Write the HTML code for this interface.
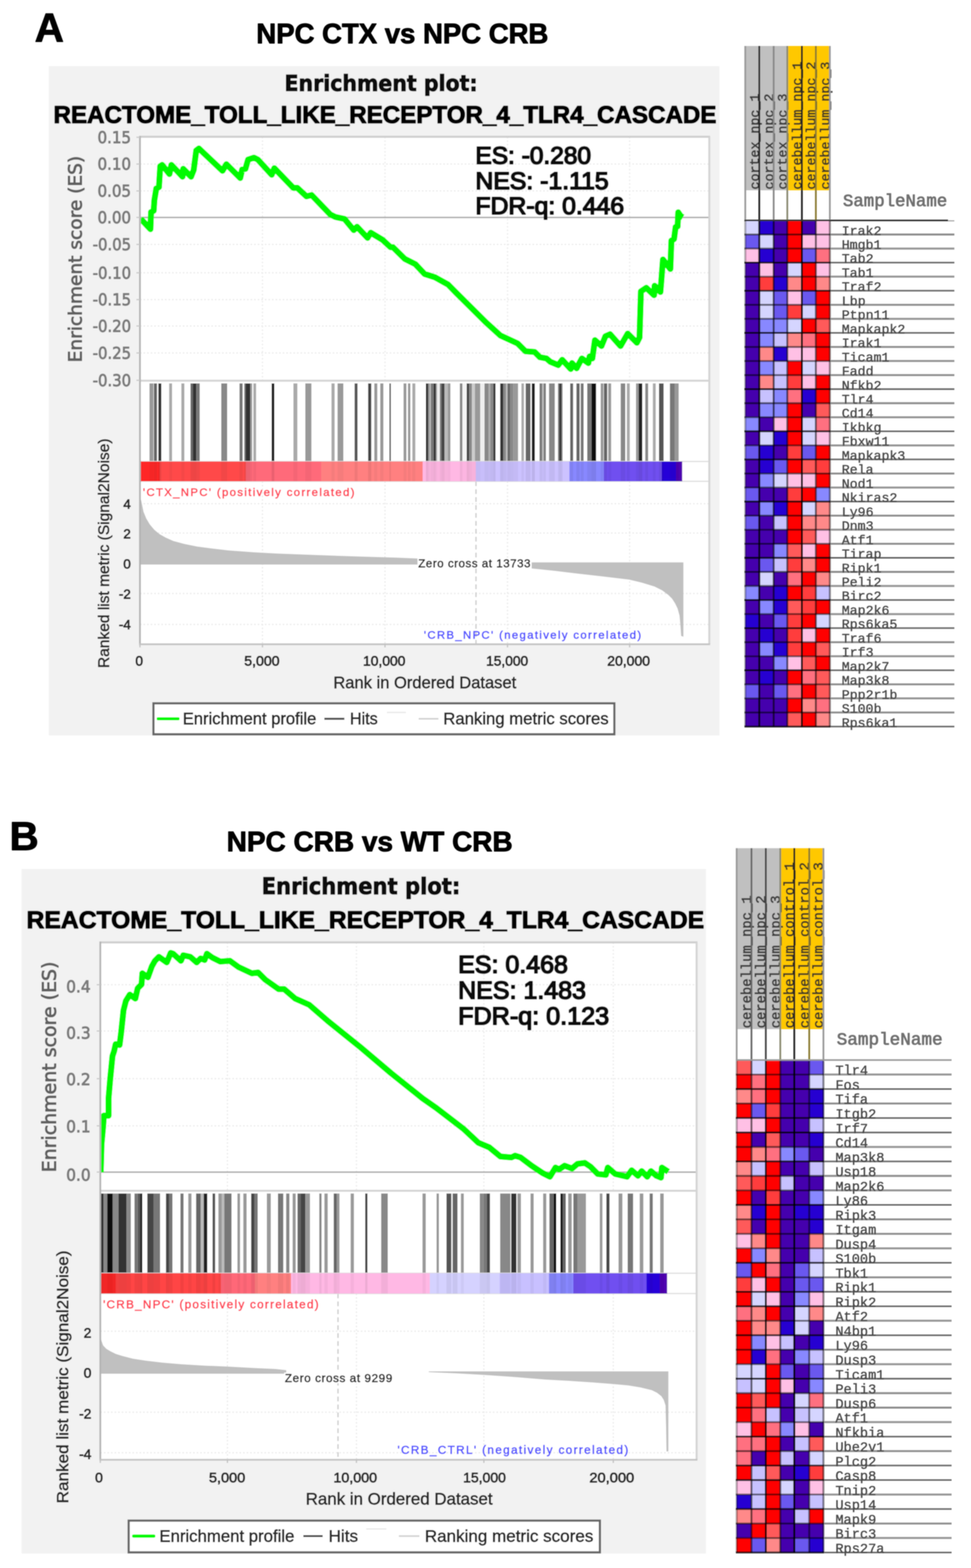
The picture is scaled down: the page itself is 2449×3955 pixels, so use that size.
<!DOCTYPE html>
<html lang="en"><head><meta charset="utf-8"><title>GSEA enrichment plots</title>
<style>html,body{margin:0;padding:0;background:#fff}body{width:2449px;height:3955px;overflow:hidden}svg{display:block}</style>
</head><body>
<svg width="2449" height="3955" viewBox="0 0 2449 3955">
<defs><filter id="bl" x="0" y="0" width="2449" height="3955" filterUnits="userSpaceOnUse"><feGaussianBlur stdDeviation="1.2"/></filter></defs>
<rect x="0" y="0" width="2449" height="3955" fill="#fff"/>
<g filter="url(#bl)">
<g id="panelA">
<rect x="123" y="167" width="1691.5" height="1688" fill="#f2f2f2"/>
<text x="87.5" y="105" font-family="'Liberation Sans',Arial,Helvetica,sans-serif" font-size="102" fill="#000" font-weight="bold" stroke="#000" stroke-width="2.0" stroke-linejoin="round">A</text>
<text x="646.6" y="108.5" font-family="'Liberation Sans',Arial,Helvetica,sans-serif" font-size="70" fill="#000" font-weight="bold" textLength="736.4" lengthAdjust="spacingAndGlyphs" stroke="#000" stroke-width="2.0" stroke-linejoin="round">NPC CTX vs NPC CRB</text>
<text x="717.5" y="228.6" font-family="'DejaVu Sans',Verdana,sans-serif" font-size="55.5" fill="#0a0a0a" font-weight="bold" textLength="487.3" lengthAdjust="spacingAndGlyphs" stroke="#0a0a0a" stroke-width="2.4" stroke-linejoin="round">Enrichment plot:</text>
<text x="135" y="309.5" font-family="'Liberation Sans',Arial,Helvetica,sans-serif" font-size="60.5" fill="#000" font-weight="bold" textLength="1672" lengthAdjust="spacingAndGlyphs" stroke="#000" stroke-width="3.0" stroke-linejoin="round">REACTOME_TOLL_LIKE_RECEPTOR_4_TLR4_CASCADE</text>
<rect x="353" y="345" width="1436" height="1280" fill="#fff"/>
<line x1="353" y1="413.8" x2="1789" y2="413.8" stroke="#eaeaea" stroke-width="3" stroke-dasharray="4 5"/>
<line x1="353" y1="481.6" x2="1789" y2="481.6" stroke="#eaeaea" stroke-width="3" stroke-dasharray="4 5"/>
<line x1="353" y1="616.5" x2="1789" y2="616.5" stroke="#eaeaea" stroke-width="3" stroke-dasharray="4 5"/>
<line x1="353" y1="688.1" x2="1789" y2="688.1" stroke="#eaeaea" stroke-width="3" stroke-dasharray="4 5"/>
<line x1="353" y1="755.7" x2="1789" y2="755.7" stroke="#eaeaea" stroke-width="3" stroke-dasharray="4 5"/>
<line x1="353" y1="822.2" x2="1789" y2="822.2" stroke="#eaeaea" stroke-width="3" stroke-dasharray="4 5"/>
<line x1="353" y1="890.3" x2="1789" y2="890.3" stroke="#eaeaea" stroke-width="3" stroke-dasharray="4 5"/>
<line x1="353" y1="1270.5" x2="1789" y2="1270.5" stroke="#eaeaea" stroke-width="3" stroke-dasharray="4 5"/>
<line x1="353" y1="1344.5" x2="1789" y2="1344.5" stroke="#eaeaea" stroke-width="3" stroke-dasharray="4 5"/>
<line x1="353" y1="1497" x2="1789" y2="1497" stroke="#eaeaea" stroke-width="3" stroke-dasharray="4 5"/>
<line x1="353" y1="1575" x2="1789" y2="1575" stroke="#eaeaea" stroke-width="3" stroke-dasharray="4 5"/>
<line x1="662" y1="345" x2="662" y2="960.3" stroke="#ebebeb" stroke-width="3" stroke-dasharray="4 5"/>
<line x1="662" y1="1214" x2="662" y2="1625" stroke="#eaeaea" stroke-width="3" stroke-dasharray="4 5"/>
<line x1="971" y1="345" x2="971" y2="960.3" stroke="#ebebeb" stroke-width="3" stroke-dasharray="4 5"/>
<line x1="971" y1="1214" x2="971" y2="1625" stroke="#eaeaea" stroke-width="3" stroke-dasharray="4 5"/>
<line x1="1280" y1="345" x2="1280" y2="960.3" stroke="#ebebeb" stroke-width="3" stroke-dasharray="4 5"/>
<line x1="1280" y1="1214" x2="1280" y2="1625" stroke="#eaeaea" stroke-width="3" stroke-dasharray="4 5"/>
<line x1="1588" y1="345" x2="1588" y2="960.3" stroke="#ebebeb" stroke-width="3" stroke-dasharray="4 5"/>
<line x1="1588" y1="1214" x2="1588" y2="1625" stroke="#eaeaea" stroke-width="3" stroke-dasharray="4 5"/>
<line x1="1200.5" y1="1214" x2="1200.5" y2="1625" stroke="#cfcfcf" stroke-width="3.5" stroke-dasharray="12 8"/>
<polygon points="353,1424 353,1255 356,1262 362,1291 369,1308 378,1323 389,1336 401.6,1346.7 418,1356 437,1364.5 465,1372 497,1378.4 535,1383.5 576,1388.3 640,1393 700,1396.3 800,1400 900,1403.5 1000,1406.5 1060,1409 1060,1424" fill="#c0c0c0"/>
<polygon points="1338,1418.4 1723.6,1418.4 1723.6,1606 1718,1604 1716,1575 1713.8,1552.5 1709,1535 1703,1522.4 1695,1510 1686,1501 1670,1489 1651,1479.5 1620,1470 1587,1462 1520,1454 1458,1447 1400,1440 1342,1434 1338,1433.5" fill="#c0c0c0"/>
<line x1="353" y1="548.5" x2="1789" y2="548.5" stroke="#a8a8a8" stroke-width="3.5"/>
<line x1="353" y1="960.3" x2="1789" y2="960.3" stroke="#d4d4d4" stroke-width="5"/>
<g>
<rect x="377" y="967" width="10" height="197" fill="#999"/>
<rect x="388" y="967" width="8" height="197" fill="#666"/>
<rect x="399.5" y="967" width="7.5" height="197" fill="#333"/>
<rect x="426.6" y="967" width="7.4" height="197" fill="#aaa"/>
<rect x="457.4" y="967" width="7.6" height="197" fill="#aaa"/>
<rect x="480.5" y="967" width="6.5" height="197" fill="#666"/>
<rect x="487" y="967" width="8.4" height="197" fill="#333"/>
<rect x="495.4" y="967" width="8.3" height="197" fill="#777"/>
<rect x="558" y="967" width="15" height="197" fill="#888"/>
<rect x="604" y="967" width="8" height="197" fill="#777"/>
<rect x="616" y="967" width="3.4" height="197" fill="#777"/>
<rect x="619.4" y="967" width="11.6" height="197" fill="#333"/>
<rect x="631" y="967" width="5" height="197" fill="#999"/>
<rect x="639" y="967" width="7" height="197" fill="#aaa"/>
<rect x="685" y="967" width="7" height="197" fill="#222"/>
<rect x="740" y="967" width="10" height="197" fill="#aaa"/>
<rect x="770" y="967" width="15.4" height="197" fill="#999"/>
<rect x="836" y="967" width="8" height="197" fill="#aaa"/>
<rect x="851.4" y="967" width="14.6" height="197" fill="#999"/>
<rect x="894.4" y="967" width="7.3" height="197" fill="#555"/>
<rect x="928.5" y="967" width="7.9" height="197" fill="#444"/>
<rect x="944" y="967" width="7.6" height="197" fill="#999"/>
<rect x="959" y="967" width="8" height="197" fill="#999"/>
<rect x="982" y="967" width="4" height="197" fill="#666"/>
<rect x="1017.8" y="967" width="7.2" height="197" fill="#999"/>
<rect x="1029" y="967" width="6" height="197" fill="#999"/>
<rect x="1040" y="967" width="7.5" height="197" fill="#aaa"/>
<rect x="1074.3" y="967" width="5.3" height="197" fill="#222"/>
<rect x="1079.6" y="967" width="3.4" height="197" fill="#888"/>
<rect x="1083" y="967" width="3.5" height="197" fill="#bbb"/>
<rect x="1086.5" y="967" width="7.2" height="197" fill="#777"/>
<rect x="1093.7" y="967" width="5.3" height="197" fill="#333"/>
<rect x="1099" y="967" width="3.4" height="197" fill="#999"/>
<rect x="1102.4" y="967" width="7.1" height="197" fill="#eee"/>
<rect x="1109.5" y="967" width="4.5" height="197" fill="#777"/>
<rect x="1114" y="967" width="7.4" height="197" fill="#444"/>
<rect x="1121.4" y="967" width="8" height="197" fill="#bbb"/>
<rect x="1129.4" y="967" width="6.6" height="197" fill="#999"/>
<rect x="1159.8" y="967" width="6.6" height="197" fill="#888"/>
<rect x="1166.4" y="967" width="10.6" height="197" fill="#f4f4f4"/>
<rect x="1177" y="967" width="6.6" height="197" fill="#444"/>
<rect x="1183.6" y="967" width="6.6" height="197" fill="#888"/>
<rect x="1190.2" y="967" width="7.8" height="197" fill="#ccc"/>
<rect x="1198" y="967" width="13.4" height="197" fill="#999"/>
<rect x="1211.4" y="967" width="10.6" height="197" fill="#eee"/>
<rect x="1222" y="967" width="10.5" height="197" fill="#888"/>
<rect x="1232.5" y="967" width="4" height="197" fill="#aaa"/>
<rect x="1236.5" y="967" width="7.9" height="197" fill="#888"/>
<rect x="1244.4" y="967" width="5.3" height="197" fill="#333"/>
<rect x="1261.6" y="967" width="7.4" height="197" fill="#333"/>
<rect x="1269" y="967" width="7.2" height="197" fill="#888"/>
<rect x="1276.2" y="967" width="4" height="197" fill="#bbb"/>
<rect x="1280.2" y="967" width="6.6" height="197" fill="#666"/>
<rect x="1286.8" y="967" width="7.9" height="197" fill="#888"/>
<rect x="1294.7" y="967" width="11.9" height="197" fill="#999"/>
<rect x="1315" y="967" width="6.5" height="197" fill="#aaa"/>
<rect x="1325.8" y="967" width="12.2" height="197" fill="#666"/>
<rect x="1341.3" y="967" width="7.7" height="197" fill="#222"/>
<rect x="1360.8" y="967" width="6.7" height="197" fill="#777"/>
<rect x="1367.5" y="967" width="3.9" height="197" fill="#bbb"/>
<rect x="1371.4" y="967" width="5.3" height="197" fill="#777"/>
<rect x="1384.7" y="967" width="14.5" height="197" fill="#888"/>
<rect x="1407.4" y="967" width="3.6" height="197" fill="#777"/>
<rect x="1411" y="967" width="4.9" height="197" fill="#333"/>
<rect x="1415.9" y="967" width="3.1" height="197" fill="#888"/>
<rect x="1438" y="967" width="7.5" height="197" fill="#666"/>
<rect x="1453.8" y="967" width="8.2" height="197" fill="#666"/>
<rect x="1464.7" y="967" width="7.3" height="197" fill="#777"/>
<rect x="1481" y="967" width="10.8" height="197" fill="#777"/>
<rect x="1491.8" y="967" width="11.6" height="197" fill="#111"/>
<rect x="1515" y="967" width="7" height="197" fill="#999"/>
<rect x="1523" y="967" width="8.5" height="197" fill="#666"/>
<rect x="1534" y="967" width="7.4" height="197" fill="#999"/>
<rect x="1565.5" y="967" width="11.5" height="197" fill="#888"/>
<rect x="1581" y="967" width="7.4" height="197" fill="#aaa"/>
<rect x="1604" y="967" width="6.8" height="197" fill="#999"/>
<rect x="1610.8" y="967" width="9.2" height="197" fill="#222"/>
<rect x="1627.4" y="967" width="7.3" height="197" fill="#888"/>
<rect x="1646.6" y="967" width="7.2" height="197" fill="#aaa"/>
<rect x="1662" y="967" width="11.7" height="197" fill="#555"/>
<rect x="1689.6" y="967" width="12.2" height="197" fill="#777"/>
<rect x="1701.8" y="967" width="9.9" height="197" fill="#999"/>
</g>
<line x1="353" y1="1164" x2="1789" y2="1164" stroke="#dedede" stroke-width="3"/>
<line x1="353" y1="1214" x2="1789" y2="1214" stroke="#dedede" stroke-width="3"/>
<g>
<rect x="353" y="1164" width="50.5" height="50" fill="#ff2828"/>
<rect x="403" y="1164" width="217.5" height="50" fill="#ff4a4a"/>
<rect x="620" y="1164" width="190.5" height="50" fill="#ff6a7a"/>
<rect x="810" y="1164" width="256.5" height="50" fill="#ff8080"/>
<rect x="1066" y="1164" width="134.5" height="50" fill="#ffb8e4"/>
<rect x="1200" y="1164" width="236.5" height="50" fill="#ccc2ff"/>
<rect x="1436" y="1164" width="87.5" height="50" fill="#8888ff"/>
<rect x="1523" y="1164" width="146.5" height="50" fill="#7050f0"/>
<rect x="1669" y="1164" width="36.5" height="50" fill="#2800d8"/>
<rect x="1705" y="1164" width="15.5" height="50" fill="#5000b0"/>
<rect x="377" y="1164" width="10" height="50" fill="#000" opacity="0.04"/>
<rect x="388" y="1164" width="8" height="50" fill="#000" opacity="0.06"/>
<rect x="399.5" y="1164" width="7.5" height="50" fill="#000" opacity="0.07"/>
<rect x="426.6" y="1164" width="7.4" height="50" fill="#000" opacity="0.04"/>
<rect x="457.4" y="1164" width="7.6" height="50" fill="#000" opacity="0.04"/>
<rect x="480.5" y="1164" width="6.5" height="50" fill="#000" opacity="0.06"/>
<rect x="487" y="1164" width="8.4" height="50" fill="#000" opacity="0.07"/>
<rect x="495.4" y="1164" width="8.3" height="50" fill="#000" opacity="0.05"/>
<rect x="558" y="1164" width="15" height="50" fill="#000" opacity="0.05"/>
<rect x="604" y="1164" width="8" height="50" fill="#000" opacity="0.05"/>
<rect x="616" y="1164" width="3.4" height="50" fill="#000" opacity="0.05"/>
<rect x="619.4" y="1164" width="11.6" height="50" fill="#000" opacity="0.07"/>
<rect x="631" y="1164" width="5" height="50" fill="#000" opacity="0.04"/>
<rect x="639" y="1164" width="7" height="50" fill="#000" opacity="0.04"/>
<rect x="685" y="1164" width="7" height="50" fill="#000" opacity="0.08"/>
<rect x="740" y="1164" width="10" height="50" fill="#000" opacity="0.04"/>
<rect x="770" y="1164" width="15.4" height="50" fill="#000" opacity="0.04"/>
<rect x="836" y="1164" width="8" height="50" fill="#000" opacity="0.04"/>
<rect x="851.4" y="1164" width="14.6" height="50" fill="#000" opacity="0.04"/>
<rect x="894.4" y="1164" width="7.3" height="50" fill="#000" opacity="0.06"/>
<rect x="928.5" y="1164" width="7.9" height="50" fill="#000" opacity="0.07"/>
<rect x="944" y="1164" width="7.6" height="50" fill="#000" opacity="0.04"/>
<rect x="959" y="1164" width="8" height="50" fill="#000" opacity="0.04"/>
<rect x="982" y="1164" width="4" height="50" fill="#000" opacity="0.06"/>
<rect x="1017.8" y="1164" width="7.2" height="50" fill="#000" opacity="0.04"/>
<rect x="1029" y="1164" width="6" height="50" fill="#000" opacity="0.04"/>
<rect x="1040" y="1164" width="7.5" height="50" fill="#000" opacity="0.04"/>
<rect x="1074.3" y="1164" width="5.3" height="50" fill="#000" opacity="0.08"/>
<rect x="1079.6" y="1164" width="3.4" height="50" fill="#000" opacity="0.05"/>
<rect x="1083" y="1164" width="3.5" height="50" fill="#000" opacity="0.03"/>
<rect x="1086.5" y="1164" width="7.2" height="50" fill="#000" opacity="0.05"/>
<rect x="1093.7" y="1164" width="5.3" height="50" fill="#000" opacity="0.07"/>
<rect x="1099" y="1164" width="3.4" height="50" fill="#000" opacity="0.04"/>
<rect x="1102.4" y="1164" width="7.1" height="50" fill="#000" opacity="0.02"/>
<rect x="1109.5" y="1164" width="4.5" height="50" fill="#000" opacity="0.05"/>
<rect x="1114" y="1164" width="7.4" height="50" fill="#000" opacity="0.07"/>
<rect x="1121.4" y="1164" width="8" height="50" fill="#000" opacity="0.03"/>
<rect x="1129.4" y="1164" width="6.6" height="50" fill="#000" opacity="0.04"/>
<rect x="1159.8" y="1164" width="6.6" height="50" fill="#000" opacity="0.05"/>
<rect x="1166.4" y="1164" width="10.6" height="50" fill="#000" opacity="0.01"/>
<rect x="1177" y="1164" width="6.6" height="50" fill="#000" opacity="0.07"/>
<rect x="1183.6" y="1164" width="6.6" height="50" fill="#000" opacity="0.05"/>
<rect x="1190.2" y="1164" width="7.8" height="50" fill="#000" opacity="0.03"/>
<rect x="1198" y="1164" width="13.4" height="50" fill="#000" opacity="0.04"/>
<rect x="1211.4" y="1164" width="10.6" height="50" fill="#000" opacity="0.02"/>
<rect x="1222" y="1164" width="10.5" height="50" fill="#000" opacity="0.05"/>
<rect x="1232.5" y="1164" width="4" height="50" fill="#000" opacity="0.04"/>
<rect x="1236.5" y="1164" width="7.9" height="50" fill="#000" opacity="0.05"/>
<rect x="1244.4" y="1164" width="5.3" height="50" fill="#000" opacity="0.07"/>
<rect x="1261.6" y="1164" width="7.4" height="50" fill="#000" opacity="0.07"/>
<rect x="1269" y="1164" width="7.2" height="50" fill="#000" opacity="0.05"/>
<rect x="1276.2" y="1164" width="4" height="50" fill="#000" opacity="0.03"/>
<rect x="1280.2" y="1164" width="6.6" height="50" fill="#000" opacity="0.06"/>
<rect x="1286.8" y="1164" width="7.9" height="50" fill="#000" opacity="0.05"/>
<rect x="1294.7" y="1164" width="11.9" height="50" fill="#000" opacity="0.04"/>
<rect x="1315" y="1164" width="6.5" height="50" fill="#000" opacity="0.04"/>
<rect x="1325.8" y="1164" width="12.2" height="50" fill="#000" opacity="0.06"/>
<rect x="1341.3" y="1164" width="7.7" height="50" fill="#000" opacity="0.08"/>
<rect x="1360.8" y="1164" width="6.7" height="50" fill="#000" opacity="0.05"/>
<rect x="1367.5" y="1164" width="3.9" height="50" fill="#000" opacity="0.03"/>
<rect x="1371.4" y="1164" width="5.3" height="50" fill="#000" opacity="0.05"/>
<rect x="1384.7" y="1164" width="14.5" height="50" fill="#000" opacity="0.05"/>
<rect x="1407.4" y="1164" width="3.6" height="50" fill="#000" opacity="0.05"/>
<rect x="1411" y="1164" width="4.9" height="50" fill="#000" opacity="0.07"/>
<rect x="1415.9" y="1164" width="3.1" height="50" fill="#000" opacity="0.05"/>
<rect x="1438" y="1164" width="7.5" height="50" fill="#000" opacity="0.06"/>
<rect x="1453.8" y="1164" width="8.2" height="50" fill="#000" opacity="0.06"/>
<rect x="1464.7" y="1164" width="7.3" height="50" fill="#000" opacity="0.05"/>
<rect x="1481" y="1164" width="10.8" height="50" fill="#000" opacity="0.05"/>
<rect x="1491.8" y="1164" width="11.6" height="50" fill="#000" opacity="0.08"/>
<rect x="1515" y="1164" width="7" height="50" fill="#000" opacity="0.04"/>
<rect x="1523" y="1164" width="8.5" height="50" fill="#000" opacity="0.06"/>
<rect x="1534" y="1164" width="7.4" height="50" fill="#000" opacity="0.04"/>
<rect x="1565.5" y="1164" width="11.5" height="50" fill="#000" opacity="0.05"/>
<rect x="1581" y="1164" width="7.4" height="50" fill="#000" opacity="0.04"/>
<rect x="1604" y="1164" width="6.8" height="50" fill="#000" opacity="0.04"/>
<rect x="1610.8" y="1164" width="9.2" height="50" fill="#000" opacity="0.08"/>
<rect x="1627.4" y="1164" width="7.3" height="50" fill="#000" opacity="0.05"/>
<rect x="1646.6" y="1164" width="7.2" height="50" fill="#000" opacity="0.04"/>
<rect x="1662" y="1164" width="11.7" height="50" fill="#000" opacity="0.06"/>
<rect x="1689.6" y="1164" width="12.2" height="50" fill="#000" opacity="0.05"/>
<rect x="1701.8" y="1164" width="9.9" height="50" fill="#000" opacity="0.04"/>
</g>
<clipPath id="cpA"><rect x="353" y="345" width="1436" height="1280"/></clipPath>
<polyline clip-path="url(#cpA)" points="354.6,551.5 379.4,578 381,535 387.6,531.6 389.3,505.2 394.2,475.4 400.9,472 404.2,419.2 409,416 427.3,439 432.3,416 460.4,445.7 462,425.8 481.9,445.7 488.5,429 495,379.5 501.7,374.6 561.2,430.8 571,414.2 605.9,449 610.8,427.5 619,425.8 625.7,402.7 640.6,397.7 650.5,402.7 685.3,440.7 691.9,424.2 739.8,473.8 749.7,473.8 772.9,495.3 786,492 832.7,540.7 846,547.3 869,552.3 892.2,580.4 900.5,572 927,600 935,587 965,605 984.8,623.4 991,623.4 1021,653 1047.6,666.4 1070.8,691 1097,699.4 1130,717.6 1150,738 1226,813.5 1262.4,846.4 1305.4,866.2 1325.3,886 1348.4,887.7 1361.6,901 1378.2,904.2 1388,912.5 1408,920.8 1418,907.5 1439.4,930.7 1442.7,915.8 1454.2,929 1467.5,904.2 1484,915.8 1487,899 1494,904 1500.5,858 1517,872.8 1527,848 1538.6,843 1565,872.8 1583.2,841.4 1606.3,864.6 1613,851.3 1616.5,735 1630,726 1649.7,744.5 1651,720.7 1665.6,736.6 1668,707.5 1672,654.6 1690.7,678.4 1693.4,607 1700,603 1704,572.6 1709,571 1710.6,535.5 1717,545 1722.5,548" fill="none" stroke="#00fa00" stroke-width="15.5" stroke-linejoin="round" stroke-linecap="butt"/>
<line x1="351" y1="345" x2="1791" y2="345" stroke="#cdcdcd" stroke-width="5"/>
<line x1="1789" y1="345" x2="1789" y2="1625" stroke="#d4d4d4" stroke-width="5"/>
<line x1="353" y1="343" x2="353" y2="1627" stroke="#b4b4b4" stroke-width="4.5"/>
<line x1="351" y1="1625" x2="1791" y2="1625" stroke="#c4c4c4" stroke-width="4.5"/>
<line x1="344" y1="346.2" x2="353" y2="346.2" stroke="#c8c8c8" stroke-width="3"/>
<line x1="344" y1="413.8" x2="353" y2="413.8" stroke="#c8c8c8" stroke-width="3"/>
<line x1="344" y1="481.6" x2="353" y2="481.6" stroke="#c8c8c8" stroke-width="3"/>
<line x1="344" y1="548.4" x2="353" y2="548.4" stroke="#c8c8c8" stroke-width="3"/>
<line x1="344" y1="616.5" x2="353" y2="616.5" stroke="#c8c8c8" stroke-width="3"/>
<line x1="344" y1="688.1" x2="353" y2="688.1" stroke="#c8c8c8" stroke-width="3"/>
<line x1="344" y1="755.7" x2="353" y2="755.7" stroke="#c8c8c8" stroke-width="3"/>
<line x1="344" y1="822.2" x2="353" y2="822.2" stroke="#c8c8c8" stroke-width="3"/>
<line x1="344" y1="890.3" x2="353" y2="890.3" stroke="#c8c8c8" stroke-width="3"/>
<line x1="344" y1="959.2" x2="353" y2="959.2" stroke="#c8c8c8" stroke-width="3"/>
<line x1="353" y1="1625" x2="353" y2="1633" stroke="#c0c0c0" stroke-width="3"/>
<line x1="662" y1="1625" x2="662" y2="1633" stroke="#c0c0c0" stroke-width="3"/>
<line x1="971" y1="1625" x2="971" y2="1633" stroke="#c0c0c0" stroke-width="3"/>
<line x1="1280" y1="1625" x2="1280" y2="1633" stroke="#c0c0c0" stroke-width="3"/>
<line x1="1588" y1="1625" x2="1588" y2="1633" stroke="#c0c0c0" stroke-width="3"/>
<text x="1199" y="413" font-family="'Liberation Sans',Arial,Helvetica,sans-serif" font-size="61.5" fill="#0a0a0a" textLength="291.7" lengthAdjust="spacingAndGlyphs" stroke="#0a0a0a" stroke-width="4.2" stroke-linejoin="round">ES: -0.280</text>
<text x="1199" y="476.7" font-family="'Liberation Sans',Arial,Helvetica,sans-serif" font-size="61.5" fill="#0a0a0a" textLength="336" lengthAdjust="spacingAndGlyphs" stroke="#0a0a0a" stroke-width="4.2" stroke-linejoin="round">NES: -1.115</text>
<text x="1199" y="540" font-family="'Liberation Sans',Arial,Helvetica,sans-serif" font-size="61.5" fill="#0a0a0a" textLength="375" lengthAdjust="spacingAndGlyphs" stroke="#0a0a0a" stroke-width="4.2" stroke-linejoin="round">FDR-q: 0.446</text>
<text x="330.5" y="360.8" font-family="'DejaVu Sans',Verdana,sans-serif" font-size="40" fill="#7c7c7c" text-anchor="end" textLength="84.6" lengthAdjust="spacingAndGlyphs" stroke="#7c7c7c" stroke-width="2.0" stroke-linejoin="round">0.15</text>
<text x="330.5" y="428.4" font-family="'DejaVu Sans',Verdana,sans-serif" font-size="40" fill="#7c7c7c" text-anchor="end" textLength="84.6" lengthAdjust="spacingAndGlyphs" stroke="#7c7c7c" stroke-width="2.0" stroke-linejoin="round">0.10</text>
<text x="330.5" y="496.2" font-family="'DejaVu Sans',Verdana,sans-serif" font-size="40" fill="#7c7c7c" text-anchor="end" textLength="84.6" lengthAdjust="spacingAndGlyphs" stroke="#7c7c7c" stroke-width="2.0" stroke-linejoin="round">0.05</text>
<text x="330.5" y="563" font-family="'DejaVu Sans',Verdana,sans-serif" font-size="40" fill="#7c7c7c" text-anchor="end" textLength="84.6" lengthAdjust="spacingAndGlyphs" stroke="#7c7c7c" stroke-width="2.0" stroke-linejoin="round">0.00</text>
<text x="330.5" y="631.1" font-family="'DejaVu Sans',Verdana,sans-serif" font-size="40" fill="#7c7c7c" text-anchor="end" textLength="96.8" lengthAdjust="spacingAndGlyphs" stroke="#7c7c7c" stroke-width="2.0" stroke-linejoin="round">-0.05</text>
<text x="330.5" y="702.7" font-family="'DejaVu Sans',Verdana,sans-serif" font-size="40" fill="#7c7c7c" text-anchor="end" textLength="96.8" lengthAdjust="spacingAndGlyphs" stroke="#7c7c7c" stroke-width="2.0" stroke-linejoin="round">-0.10</text>
<text x="330.5" y="770.3" font-family="'DejaVu Sans',Verdana,sans-serif" font-size="40" fill="#7c7c7c" text-anchor="end" textLength="96.8" lengthAdjust="spacingAndGlyphs" stroke="#7c7c7c" stroke-width="2.0" stroke-linejoin="round">-0.15</text>
<text x="330.5" y="836.8" font-family="'DejaVu Sans',Verdana,sans-serif" font-size="40" fill="#7c7c7c" text-anchor="end" textLength="96.8" lengthAdjust="spacingAndGlyphs" stroke="#7c7c7c" stroke-width="2.0" stroke-linejoin="round">-0.20</text>
<text x="330.5" y="904.9" font-family="'DejaVu Sans',Verdana,sans-serif" font-size="40" fill="#7c7c7c" text-anchor="end" textLength="96.8" lengthAdjust="spacingAndGlyphs" stroke="#7c7c7c" stroke-width="2.0" stroke-linejoin="round">-0.25</text>
<text x="330.5" y="973.8" font-family="'DejaVu Sans',Verdana,sans-serif" font-size="40" fill="#7c7c7c" text-anchor="end" textLength="96.8" lengthAdjust="spacingAndGlyphs" stroke="#7c7c7c" stroke-width="2.0" stroke-linejoin="round">-0.30</text>
<text transform="translate(206 914) rotate(-90)" font-family="'DejaVu Sans',Verdana,sans-serif" font-size="46.5" fill="#606060" textLength="521" lengthAdjust="spacingAndGlyphs" stroke="#606060" stroke-width="2.0" stroke-linejoin="round">Enrichment score (ES)</text>
<text x="330" y="1282.5" font-family="'Liberation Sans',Arial,Helvetica,sans-serif" font-size="34" fill="#2a2a2a" text-anchor="end" stroke="#2a2a2a" stroke-width="1.8" stroke-linejoin="round">4</text>
<text x="330" y="1358" font-family="'Liberation Sans',Arial,Helvetica,sans-serif" font-size="34" fill="#2a2a2a" text-anchor="end" stroke="#2a2a2a" stroke-width="1.8" stroke-linejoin="round">2</text>
<text x="330" y="1434" font-family="'Liberation Sans',Arial,Helvetica,sans-serif" font-size="34" fill="#2a2a2a" text-anchor="end" stroke="#2a2a2a" stroke-width="1.8" stroke-linejoin="round">0</text>
<text x="330" y="1510" font-family="'Liberation Sans',Arial,Helvetica,sans-serif" font-size="34" fill="#2a2a2a" text-anchor="end" stroke="#2a2a2a" stroke-width="1.8" stroke-linejoin="round">-2</text>
<text x="330" y="1587" font-family="'Liberation Sans',Arial,Helvetica,sans-serif" font-size="34" fill="#2a2a2a" text-anchor="end" stroke="#2a2a2a" stroke-width="1.8" stroke-linejoin="round">-4</text>
<text transform="translate(274.5 1685) rotate(-90)" font-family="'Liberation Sans',Arial,Helvetica,sans-serif" font-size="39" fill="#2a2a2a" textLength="579" lengthAdjust="spacingAndGlyphs" stroke="#2a2a2a" stroke-width="1.4" stroke-linejoin="round">Ranked list metric (Signal2Noise)</text>
<text x="351" y="1679" font-family="'Liberation Sans',Arial,Helvetica,sans-serif" font-size="34.5" fill="#2a2a2a" text-anchor="middle" stroke="#2a2a2a" stroke-width="1.8" stroke-linejoin="round">0</text>
<text x="660.5" y="1679" font-family="'Liberation Sans',Arial,Helvetica,sans-serif" font-size="34.5" fill="#2a2a2a" text-anchor="middle" textLength="89" lengthAdjust="spacingAndGlyphs" stroke="#2a2a2a" stroke-width="1.8" stroke-linejoin="round">5,000</text>
<text x="969" y="1679" font-family="'Liberation Sans',Arial,Helvetica,sans-serif" font-size="34.5" fill="#2a2a2a" text-anchor="middle" textLength="107" lengthAdjust="spacingAndGlyphs" stroke="#2a2a2a" stroke-width="1.8" stroke-linejoin="round">10,000</text>
<text x="1279" y="1679" font-family="'Liberation Sans',Arial,Helvetica,sans-serif" font-size="34.5" fill="#2a2a2a" text-anchor="middle" textLength="106" lengthAdjust="spacingAndGlyphs" stroke="#2a2a2a" stroke-width="1.8" stroke-linejoin="round">15,000</text>
<text x="1585.5" y="1679" font-family="'Liberation Sans',Arial,Helvetica,sans-serif" font-size="34.5" fill="#2a2a2a" text-anchor="middle" textLength="108" lengthAdjust="spacingAndGlyphs" stroke="#2a2a2a" stroke-width="1.8" stroke-linejoin="round">20,000</text>
<text x="840.7" y="1735.6" font-family="'Liberation Sans',Arial,Helvetica,sans-serif" font-size="41.7" fill="#2a2a2a" textLength="461.3" lengthAdjust="spacingAndGlyphs" stroke="#2a2a2a" stroke-width="1.4" stroke-linejoin="round">Rank in Ordered Dataset</text>
<text x="360.5" y="1251" font-family="'Liberation Sans',Arial,Helvetica,sans-serif" font-size="28.5" fill="#ff4658" textLength="533.5" lengthAdjust="spacing" stroke="#ff4658" stroke-width="1.2" stroke-linejoin="round">'CTX_NPC' (positively correlated)</text>
<text x="1069" y="1610.6" font-family="'Liberation Sans',Arial,Helvetica,sans-serif" font-size="28.5" fill="#5454ff" textLength="548" lengthAdjust="spacing" stroke="#5454ff" stroke-width="1.2" stroke-linejoin="round">'CRB_NPC' (negatively correlated)</text>
<rect x="1053" y="1407.3" width="288" height="26.7" fill="#fff"/>
<text x="1055" y="1430.5" font-family="'Liberation Sans',Arial,Helvetica,sans-serif" font-size="29" fill="#2a2a2a" textLength="283" lengthAdjust="spacing" stroke="#2a2a2a" stroke-width="1.2" stroke-linejoin="round">Zero cross at 13733</text>
<rect x="387" y="1774" width="1162.5" height="78" fill="#fff" stroke="#666" stroke-width="5.5"/>
<line x1="399" y1="1813" x2="449" y2="1813" stroke="#00fa00" stroke-width="8" stroke-linecap="round"/>
<text x="461" y="1827" font-family="'Liberation Sans',Arial,Helvetica,sans-serif" font-size="41.8" fill="#2a2a2a" textLength="336.7" lengthAdjust="spacingAndGlyphs" stroke="#2a2a2a" stroke-width="1.4" stroke-linejoin="round">Enrichment profile</text>
<line x1="818" y1="1813" x2="868.5" y2="1813" stroke="#4a4a4a" stroke-width="5"/>
<text x="882.4" y="1827" font-family="'Liberation Sans',Arial,Helvetica,sans-serif" font-size="41.8" fill="#2a2a2a" textLength="70.4" lengthAdjust="spacingAndGlyphs" stroke="#2a2a2a" stroke-width="1.4" stroke-linejoin="round">Hits</text>
<line x1="976" y1="1797" x2="1023.6" y2="1797" stroke="#e6e6e6" stroke-width="3"/>
<line x1="1056" y1="1813" x2="1105.7" y2="1813" stroke="#d0d0d0" stroke-width="4"/>
<text x="1118" y="1827" font-family="'Liberation Sans',Arial,Helvetica,sans-serif" font-size="41.8" fill="#2a2a2a" textLength="417" lengthAdjust="spacingAndGlyphs" stroke="#2a2a2a" stroke-width="1.4" stroke-linejoin="round">Ranking metric scores</text>
</g>
<g id="heatA">
<rect x="1877.7" y="116" width="108" height="364" fill="#c0c0c0"/>
<rect x="1985.7" y="116" width="108.3" height="364" fill="#ffc800"/>
<text transform="translate(1913.5 478) rotate(-90)" font-family="'Liberation Mono','DejaVu Sans Mono',monospace" font-size="33.6" fill="#2a2a2a" textLength="241.8" lengthAdjust="spacingAndGlyphs" opacity="0.85" stroke="#2a2a2a" stroke-width="1.5" stroke-linejoin="round">cortex_npc_1</text>
<text transform="translate(1949.8 478) rotate(-90)" font-family="'Liberation Mono','DejaVu Sans Mono',monospace" font-size="33.6" fill="#2a2a2a" textLength="241.8" lengthAdjust="spacingAndGlyphs" opacity="0.85" stroke="#2a2a2a" stroke-width="1.5" stroke-linejoin="round">cortex_npc_2</text>
<text transform="translate(1984.2 478) rotate(-90)" font-family="'Liberation Mono','DejaVu Sans Mono',monospace" font-size="33.6" fill="#2a2a2a" textLength="241.8" lengthAdjust="spacingAndGlyphs" opacity="0.85" stroke="#2a2a2a" stroke-width="1.5" stroke-linejoin="round">cortex_npc_3</text>
<text transform="translate(2021 478) rotate(-90)" font-family="'Liberation Mono','DejaVu Sans Mono',monospace" font-size="33.6" fill="#2a2a2a" textLength="322.4" lengthAdjust="spacingAndGlyphs" opacity="0.85" stroke="#2a2a2a" stroke-width="1.5" stroke-linejoin="round">cerebellum_npc_1</text>
<text transform="translate(2056.2 478) rotate(-90)" font-family="'Liberation Mono','DejaVu Sans Mono',monospace" font-size="33.6" fill="#2a2a2a" textLength="322.4" lengthAdjust="spacingAndGlyphs" opacity="0.85" stroke="#2a2a2a" stroke-width="1.5" stroke-linejoin="round">cerebellum_npc_2</text>
<text transform="translate(2091.5 478) rotate(-90)" font-family="'Liberation Mono','DejaVu Sans Mono',monospace" font-size="33.6" fill="#2a2a2a" textLength="322.4" lengthAdjust="spacingAndGlyphs" opacity="0.85" stroke="#2a2a2a" stroke-width="1.5" stroke-linejoin="round">cerebellum_npc_3</text>
<line x1="1879.7" y1="116" x2="1879.7" y2="556" stroke="#9a9a9a" stroke-width="4.4"/>
<line x1="1915" y1="116" x2="1915" y2="556" stroke="#222" stroke-width="4.4"/>
<line x1="1951.3" y1="116" x2="1951.3" y2="556" stroke="#888" stroke-width="4.4"/>
<line x1="1985.7" y1="116" x2="1985.7" y2="556" stroke="#8a8a70" stroke-width="4.4"/>
<line x1="2022.5" y1="116" x2="2022.5" y2="556" stroke="#222" stroke-width="4.4"/>
<line x1="2057.7" y1="116" x2="2057.7" y2="556" stroke="#8a7a30" stroke-width="4.4"/>
<line x1="2093" y1="116" x2="2093" y2="556" stroke="#999" stroke-width="4.4"/>
<g shape-rendering="crispEdges">
<rect x="1879.7" y="556" width="35.6" height="35.8" fill="#d5d5ff"/>
<rect x="1915" y="556" width="36.6" height="35.8" fill="#2700d1"/>
<rect x="1951.3" y="556" width="34.7" height="35.8" fill="#4500ad"/>
<rect x="1985.7" y="556" width="37.1" height="35.8" fill="#ff0000"/>
<rect x="2022.5" y="556" width="35.5" height="35.8" fill="#4500ad"/>
<rect x="2057.7" y="556" width="35.6" height="35.8" fill="#ffc0e5"/>
<rect x="1879.7" y="591.5" width="35.6" height="35.8" fill="#6b58ef"/>
<rect x="1915" y="591.5" width="36.6" height="35.8" fill="#d5d5ff"/>
<rect x="1951.3" y="591.5" width="34.7" height="35.8" fill="#4500ad"/>
<rect x="1985.7" y="591.5" width="37.1" height="35.8" fill="#ff0000"/>
<rect x="2022.5" y="591.5" width="35.5" height="35.8" fill="#ffc0e5"/>
<rect x="2057.7" y="591.5" width="35.6" height="35.8" fill="#ffc0e5"/>
<rect x="1879.7" y="626.9" width="35.6" height="35.8" fill="#ffc0e5"/>
<rect x="1915" y="626.9" width="36.6" height="35.8" fill="#2700d1"/>
<rect x="1951.3" y="626.9" width="34.7" height="35.8" fill="#4500ad"/>
<rect x="1985.7" y="626.9" width="37.1" height="35.8" fill="#ff0000"/>
<rect x="2022.5" y="626.9" width="35.5" height="35.8" fill="#6b58ef"/>
<rect x="2057.7" y="626.9" width="35.6" height="35.8" fill="#ff7080"/>
<rect x="1879.7" y="662.4" width="35.6" height="35.8" fill="#4500ad"/>
<rect x="1915" y="662.4" width="36.6" height="35.8" fill="#ffc0e5"/>
<rect x="1951.3" y="662.4" width="34.7" height="35.8" fill="#4500ad"/>
<rect x="1985.7" y="662.4" width="37.1" height="35.8" fill="#d5d5ff"/>
<rect x="2022.5" y="662.4" width="35.5" height="35.8" fill="#ff0000"/>
<rect x="2057.7" y="662.4" width="35.6" height="35.8" fill="#ffc0e5"/>
<rect x="1879.7" y="697.8" width="35.6" height="35.8" fill="#4500ad"/>
<rect x="1915" y="697.8" width="36.6" height="35.8" fill="#ff3d3d"/>
<rect x="1951.3" y="697.8" width="34.7" height="35.8" fill="#2700d1"/>
<rect x="1985.7" y="697.8" width="37.1" height="35.8" fill="#ff8989"/>
<rect x="2022.5" y="697.8" width="35.5" height="35.8" fill="#ff0000"/>
<rect x="2057.7" y="697.8" width="35.6" height="35.8" fill="#ff8989"/>
<rect x="1879.7" y="733.3" width="35.6" height="35.8" fill="#4500ad"/>
<rect x="1915" y="733.3" width="36.6" height="35.8" fill="#d5d5ff"/>
<rect x="1951.3" y="733.3" width="34.7" height="35.8" fill="#6b58ef"/>
<rect x="1985.7" y="733.3" width="37.1" height="35.8" fill="#ffc0e5"/>
<rect x="2022.5" y="733.3" width="35.5" height="35.8" fill="#6b58ef"/>
<rect x="2057.7" y="733.3" width="35.6" height="35.8" fill="#ff0000"/>
<rect x="1879.7" y="768.8" width="35.6" height="35.8" fill="#4500ad"/>
<rect x="1915" y="768.8" width="36.6" height="35.8" fill="#d5d5ff"/>
<rect x="1951.3" y="768.8" width="34.7" height="35.8" fill="#6b58ef"/>
<rect x="1985.7" y="768.8" width="37.1" height="35.8" fill="#ff3d3d"/>
<rect x="2022.5" y="768.8" width="35.5" height="35.8" fill="#d5d5ff"/>
<rect x="2057.7" y="768.8" width="35.6" height="35.8" fill="#ff0000"/>
<rect x="1879.7" y="804.2" width="35.6" height="35.8" fill="#4500ad"/>
<rect x="1915" y="804.2" width="36.6" height="35.8" fill="#8888ff"/>
<rect x="1951.3" y="804.2" width="34.7" height="35.8" fill="#8888ff"/>
<rect x="1985.7" y="804.2" width="37.1" height="35.8" fill="#d5d5ff"/>
<rect x="2022.5" y="804.2" width="35.5" height="35.8" fill="#ff0000"/>
<rect x="2057.7" y="804.2" width="35.6" height="35.8" fill="#ff5a5a"/>
<rect x="1879.7" y="839.7" width="35.6" height="35.8" fill="#4500ad"/>
<rect x="1915" y="839.7" width="36.6" height="35.8" fill="#8888ff"/>
<rect x="1951.3" y="839.7" width="34.7" height="35.8" fill="#c7c1ff"/>
<rect x="1985.7" y="839.7" width="37.1" height="35.8" fill="#ff8989"/>
<rect x="2022.5" y="839.7" width="35.5" height="35.8" fill="#ff7080"/>
<rect x="2057.7" y="839.7" width="35.6" height="35.8" fill="#ff0000"/>
<rect x="1879.7" y="875.1" width="35.6" height="35.8" fill="#4500ad"/>
<rect x="1915" y="875.1" width="36.6" height="35.8" fill="#ff8989"/>
<rect x="1951.3" y="875.1" width="34.7" height="35.8" fill="#2700d1"/>
<rect x="1985.7" y="875.1" width="37.1" height="35.8" fill="#ffc0e5"/>
<rect x="2022.5" y="875.1" width="35.5" height="35.8" fill="#ffc0e5"/>
<rect x="2057.7" y="875.1" width="35.6" height="35.8" fill="#ff0000"/>
<rect x="1879.7" y="910.6" width="35.6" height="35.8" fill="#4500ad"/>
<rect x="1915" y="910.6" width="36.6" height="35.8" fill="#8888ff"/>
<rect x="1951.3" y="910.6" width="34.7" height="35.8" fill="#c7c1ff"/>
<rect x="1985.7" y="910.6" width="37.1" height="35.8" fill="#ff0000"/>
<rect x="2022.5" y="910.6" width="35.5" height="35.8" fill="#d5d5ff"/>
<rect x="2057.7" y="910.6" width="35.6" height="35.8" fill="#ffc0e5"/>
<rect x="1879.7" y="946.1" width="35.6" height="35.8" fill="#4500ad"/>
<rect x="1915" y="946.1" width="36.6" height="35.8" fill="#ff8989"/>
<rect x="1951.3" y="946.1" width="34.7" height="35.8" fill="#c7c1ff"/>
<rect x="1985.7" y="946.1" width="37.1" height="35.8" fill="#ff3d3d"/>
<rect x="2022.5" y="946.1" width="35.5" height="35.8" fill="#ffc0e5"/>
<rect x="2057.7" y="946.1" width="35.6" height="35.8" fill="#ff0000"/>
<rect x="1879.7" y="981.5" width="35.6" height="35.8" fill="#4500ad"/>
<rect x="1915" y="981.5" width="36.6" height="35.8" fill="#c7c1ff"/>
<rect x="1951.3" y="981.5" width="34.7" height="35.8" fill="#8888ff"/>
<rect x="1985.7" y="981.5" width="37.1" height="35.8" fill="#ff7080"/>
<rect x="2022.5" y="981.5" width="35.5" height="35.8" fill="#2700d1"/>
<rect x="2057.7" y="981.5" width="35.6" height="35.8" fill="#ff0000"/>
<rect x="1879.7" y="1017" width="35.6" height="35.8" fill="#4500ad"/>
<rect x="1915" y="1017" width="36.6" height="35.8" fill="#8888ff"/>
<rect x="1951.3" y="1017" width="34.7" height="35.8" fill="#8888ff"/>
<rect x="1985.7" y="1017" width="37.1" height="35.8" fill="#ff0000"/>
<rect x="2022.5" y="1017" width="35.5" height="35.8" fill="#4500ad"/>
<rect x="2057.7" y="1017" width="35.6" height="35.8" fill="#ff5a5a"/>
<rect x="1879.7" y="1052.4" width="35.6" height="35.8" fill="#8888ff"/>
<rect x="1915" y="1052.4" width="36.6" height="35.8" fill="#4500ad"/>
<rect x="1951.3" y="1052.4" width="34.7" height="35.8" fill="#ffc0e5"/>
<rect x="1985.7" y="1052.4" width="37.1" height="35.8" fill="#ff0000"/>
<rect x="2022.5" y="1052.4" width="35.5" height="35.8" fill="#d5d5ff"/>
<rect x="2057.7" y="1052.4" width="35.6" height="35.8" fill="#ff7080"/>
<rect x="1879.7" y="1087.9" width="35.6" height="35.8" fill="#4500ad"/>
<rect x="1915" y="1087.9" width="36.6" height="35.8" fill="#d5d5ff"/>
<rect x="1951.3" y="1087.9" width="34.7" height="35.8" fill="#2700d1"/>
<rect x="1985.7" y="1087.9" width="37.1" height="35.8" fill="#ff0000"/>
<rect x="2022.5" y="1087.9" width="35.5" height="35.8" fill="#d5d5ff"/>
<rect x="2057.7" y="1087.9" width="35.6" height="35.8" fill="#ffc0e5"/>
<rect x="1879.7" y="1123.4" width="35.6" height="35.8" fill="#6b58ef"/>
<rect x="1915" y="1123.4" width="36.6" height="35.8" fill="#2700d1"/>
<rect x="1951.3" y="1123.4" width="34.7" height="35.8" fill="#4500ad"/>
<rect x="1985.7" y="1123.4" width="37.1" height="35.8" fill="#ff3d3d"/>
<rect x="2022.5" y="1123.4" width="35.5" height="35.8" fill="#6b58ef"/>
<rect x="2057.7" y="1123.4" width="35.6" height="35.8" fill="#ff0000"/>
<rect x="1879.7" y="1158.8" width="35.6" height="35.8" fill="#4500ad"/>
<rect x="1915" y="1158.8" width="36.6" height="35.8" fill="#2700d1"/>
<rect x="1951.3" y="1158.8" width="34.7" height="35.8" fill="#6b58ef"/>
<rect x="1985.7" y="1158.8" width="37.1" height="35.8" fill="#ff0000"/>
<rect x="2022.5" y="1158.8" width="35.5" height="35.8" fill="#ff5a5a"/>
<rect x="2057.7" y="1158.8" width="35.6" height="35.8" fill="#ff3d3d"/>
<rect x="1879.7" y="1194.3" width="35.6" height="35.8" fill="#4500ad"/>
<rect x="1915" y="1194.3" width="36.6" height="35.8" fill="#8888ff"/>
<rect x="1951.3" y="1194.3" width="34.7" height="35.8" fill="#d5d5ff"/>
<rect x="1985.7" y="1194.3" width="37.1" height="35.8" fill="#ffc0e5"/>
<rect x="2022.5" y="1194.3" width="35.5" height="35.8" fill="#ffc0e5"/>
<rect x="2057.7" y="1194.3" width="35.6" height="35.8" fill="#ff0000"/>
<rect x="1879.7" y="1229.7" width="35.6" height="35.8" fill="#6b58ef"/>
<rect x="1915" y="1229.7" width="36.6" height="35.8" fill="#4500ad"/>
<rect x="1951.3" y="1229.7" width="34.7" height="35.8" fill="#4500ad"/>
<rect x="1985.7" y="1229.7" width="37.1" height="35.8" fill="#ff3d3d"/>
<rect x="2022.5" y="1229.7" width="35.5" height="35.8" fill="#ff0000"/>
<rect x="2057.7" y="1229.7" width="35.6" height="35.8" fill="#8888ff"/>
<rect x="1879.7" y="1265.2" width="35.6" height="35.8" fill="#4500ad"/>
<rect x="1915" y="1265.2" width="36.6" height="35.8" fill="#8888ff"/>
<rect x="1951.3" y="1265.2" width="34.7" height="35.8" fill="#2700d1"/>
<rect x="1985.7" y="1265.2" width="37.1" height="35.8" fill="#ff0000"/>
<rect x="2022.5" y="1265.2" width="35.5" height="35.8" fill="#d5d5ff"/>
<rect x="2057.7" y="1265.2" width="35.6" height="35.8" fill="#ff8989"/>
<rect x="1879.7" y="1300.7" width="35.6" height="35.8" fill="#6b58ef"/>
<rect x="1915" y="1300.7" width="36.6" height="35.8" fill="#4500ad"/>
<rect x="1951.3" y="1300.7" width="34.7" height="35.8" fill="#c7c1ff"/>
<rect x="1985.7" y="1300.7" width="37.1" height="35.8" fill="#ff0000"/>
<rect x="2022.5" y="1300.7" width="35.5" height="35.8" fill="#ff8989"/>
<rect x="2057.7" y="1300.7" width="35.6" height="35.8" fill="#ff8989"/>
<rect x="1879.7" y="1336.1" width="35.6" height="35.8" fill="#4500ad"/>
<rect x="1915" y="1336.1" width="36.6" height="35.8" fill="#4500ad"/>
<rect x="1951.3" y="1336.1" width="34.7" height="35.8" fill="#4500ad"/>
<rect x="1985.7" y="1336.1" width="37.1" height="35.8" fill="#ff0000"/>
<rect x="2022.5" y="1336.1" width="35.5" height="35.8" fill="#ff5a5a"/>
<rect x="2057.7" y="1336.1" width="35.6" height="35.8" fill="#ffc0e5"/>
<rect x="1879.7" y="1371.6" width="35.6" height="35.8" fill="#4500ad"/>
<rect x="1915" y="1371.6" width="36.6" height="35.8" fill="#4500ad"/>
<rect x="1951.3" y="1371.6" width="34.7" height="35.8" fill="#8888ff"/>
<rect x="1985.7" y="1371.6" width="37.1" height="35.8" fill="#ff5a5a"/>
<rect x="2022.5" y="1371.6" width="35.5" height="35.8" fill="#ffc0e5"/>
<rect x="2057.7" y="1371.6" width="35.6" height="35.8" fill="#ff0000"/>
<rect x="1879.7" y="1407" width="35.6" height="35.8" fill="#4500ad"/>
<rect x="1915" y="1407" width="36.6" height="35.8" fill="#6b58ef"/>
<rect x="1951.3" y="1407" width="34.7" height="35.8" fill="#c7c1ff"/>
<rect x="1985.7" y="1407" width="37.1" height="35.8" fill="#ff3d3d"/>
<rect x="2022.5" y="1407" width="35.5" height="35.8" fill="#ff8989"/>
<rect x="2057.7" y="1407" width="35.6" height="35.8" fill="#ff0000"/>
<rect x="1879.7" y="1442.5" width="35.6" height="35.8" fill="#4500ad"/>
<rect x="1915" y="1442.5" width="36.6" height="35.8" fill="#d5d5ff"/>
<rect x="1951.3" y="1442.5" width="34.7" height="35.8" fill="#4500ad"/>
<rect x="1985.7" y="1442.5" width="37.1" height="35.8" fill="#ff7080"/>
<rect x="2022.5" y="1442.5" width="35.5" height="35.8" fill="#ff0000"/>
<rect x="2057.7" y="1442.5" width="35.6" height="35.8" fill="#ff8989"/>
<rect x="1879.7" y="1478" width="35.6" height="35.8" fill="#8888ff"/>
<rect x="1915" y="1478" width="36.6" height="35.8" fill="#4500ad"/>
<rect x="1951.3" y="1478" width="34.7" height="35.8" fill="#2700d1"/>
<rect x="1985.7" y="1478" width="37.1" height="35.8" fill="#ff0000"/>
<rect x="2022.5" y="1478" width="35.5" height="35.8" fill="#ff3d3d"/>
<rect x="2057.7" y="1478" width="35.6" height="35.8" fill="#c7c1ff"/>
<rect x="1879.7" y="1513.4" width="35.6" height="35.8" fill="#4500ad"/>
<rect x="1915" y="1513.4" width="36.6" height="35.8" fill="#8888ff"/>
<rect x="1951.3" y="1513.4" width="34.7" height="35.8" fill="#2700d1"/>
<rect x="1985.7" y="1513.4" width="37.1" height="35.8" fill="#ff5a5a"/>
<rect x="2022.5" y="1513.4" width="35.5" height="35.8" fill="#ff3d3d"/>
<rect x="2057.7" y="1513.4" width="35.6" height="35.8" fill="#ff0000"/>
<rect x="1879.7" y="1548.9" width="35.6" height="35.8" fill="#2700d1"/>
<rect x="1915" y="1548.9" width="36.6" height="35.8" fill="#4500ad"/>
<rect x="1951.3" y="1548.9" width="34.7" height="35.8" fill="#6b58ef"/>
<rect x="1985.7" y="1548.9" width="37.1" height="35.8" fill="#ff3d3d"/>
<rect x="2022.5" y="1548.9" width="35.5" height="35.8" fill="#ff0000"/>
<rect x="2057.7" y="1548.9" width="35.6" height="35.8" fill="#d5d5ff"/>
<rect x="1879.7" y="1584.3" width="35.6" height="35.8" fill="#4500ad"/>
<rect x="1915" y="1584.3" width="36.6" height="35.8" fill="#2700d1"/>
<rect x="1951.3" y="1584.3" width="34.7" height="35.8" fill="#4500ad"/>
<rect x="1985.7" y="1584.3" width="37.1" height="35.8" fill="#ff3d3d"/>
<rect x="2022.5" y="1584.3" width="35.5" height="35.8" fill="#ffc0e5"/>
<rect x="2057.7" y="1584.3" width="35.6" height="35.8" fill="#ff0000"/>
<rect x="1879.7" y="1619.8" width="35.6" height="35.8" fill="#4500ad"/>
<rect x="1915" y="1619.8" width="36.6" height="35.8" fill="#8888ff"/>
<rect x="1951.3" y="1619.8" width="34.7" height="35.8" fill="#2700d1"/>
<rect x="1985.7" y="1619.8" width="37.1" height="35.8" fill="#ff3d3d"/>
<rect x="2022.5" y="1619.8" width="35.5" height="35.8" fill="#ff0000"/>
<rect x="2057.7" y="1619.8" width="35.6" height="35.8" fill="#ff5a5a"/>
<rect x="1879.7" y="1655.3" width="35.6" height="35.8" fill="#4500ad"/>
<rect x="1915" y="1655.3" width="36.6" height="35.8" fill="#4500ad"/>
<rect x="1951.3" y="1655.3" width="34.7" height="35.8" fill="#8888ff"/>
<rect x="1985.7" y="1655.3" width="37.1" height="35.8" fill="#ffc0e5"/>
<rect x="2022.5" y="1655.3" width="35.5" height="35.8" fill="#ff5a5a"/>
<rect x="2057.7" y="1655.3" width="35.6" height="35.8" fill="#ff0000"/>
<rect x="1879.7" y="1690.7" width="35.6" height="35.8" fill="#4500ad"/>
<rect x="1915" y="1690.7" width="36.6" height="35.8" fill="#2700d1"/>
<rect x="1951.3" y="1690.7" width="34.7" height="35.8" fill="#4500ad"/>
<rect x="1985.7" y="1690.7" width="37.1" height="35.8" fill="#ff0000"/>
<rect x="2022.5" y="1690.7" width="35.5" height="35.8" fill="#ff7080"/>
<rect x="2057.7" y="1690.7" width="35.6" height="35.8" fill="#ff5a5a"/>
<rect x="1879.7" y="1726.2" width="35.6" height="35.8" fill="#6b58ef"/>
<rect x="1915" y="1726.2" width="36.6" height="35.8" fill="#4500ad"/>
<rect x="1951.3" y="1726.2" width="34.7" height="35.8" fill="#6b58ef"/>
<rect x="1985.7" y="1726.2" width="37.1" height="35.8" fill="#ff7080"/>
<rect x="2022.5" y="1726.2" width="35.5" height="35.8" fill="#ff0000"/>
<rect x="2057.7" y="1726.2" width="35.6" height="35.8" fill="#ff5a5a"/>
<rect x="1879.7" y="1761.6" width="35.6" height="35.8" fill="#4500ad"/>
<rect x="1915" y="1761.6" width="36.6" height="35.8" fill="#4500ad"/>
<rect x="1951.3" y="1761.6" width="34.7" height="35.8" fill="#4500ad"/>
<rect x="1985.7" y="1761.6" width="37.1" height="35.8" fill="#ff0000"/>
<rect x="2022.5" y="1761.6" width="35.5" height="35.8" fill="#ff8989"/>
<rect x="2057.7" y="1761.6" width="35.6" height="35.8" fill="#ff7080"/>
<rect x="1879.7" y="1797.1" width="35.6" height="35.8" fill="#4500ad"/>
<rect x="1915" y="1797.1" width="36.6" height="35.8" fill="#4500ad"/>
<rect x="1951.3" y="1797.1" width="34.7" height="35.8" fill="#4500ad"/>
<rect x="1985.7" y="1797.1" width="37.1" height="35.8" fill="#ff5a5a"/>
<rect x="2022.5" y="1797.1" width="35.5" height="35.8" fill="#ff0000"/>
<rect x="2057.7" y="1797.1" width="35.6" height="35.8" fill="#ff8989"/>
</g>
<line x1="1879.7" y1="556" x2="1879.7" y2="1832.6" stroke="#000" stroke-width="5" opacity="0.35"/>
<line x1="1915" y1="556" x2="1915" y2="1832.6" stroke="#000" stroke-width="5" opacity="0.8"/>
<line x1="1951.3" y1="556" x2="1951.3" y2="1832.6" stroke="#000" stroke-width="5" opacity="0.6"/>
<line x1="1985.7" y1="556" x2="1985.7" y2="1832.6" stroke="#000" stroke-width="5" opacity="0.55"/>
<line x1="2022.5" y1="556" x2="2022.5" y2="1832.6" stroke="#000" stroke-width="5" opacity="0.85"/>
<line x1="2057.7" y1="556" x2="2057.7" y2="1832.6" stroke="#000" stroke-width="5" opacity="0.55"/>
<line x1="2093" y1="556" x2="2093" y2="1832.6" stroke="#000" stroke-width="5" opacity="0.5"/>
<line x1="1877.7" y1="556" x2="2391" y2="556" stroke="#333" stroke-width="4"/>
<line x1="2391" y1="557" x2="2407" y2="557" stroke="#999" stroke-width="2.5"/>
<line x1="1877.7" y1="591.5" x2="2095" y2="591.5" stroke="#000" stroke-width="4.8" opacity="0.54"/>
<line x1="2095" y1="591.5" x2="2407" y2="591.5" stroke="rgb(141,141,141)" stroke-width="4.8"/>
<line x1="1877.7" y1="626.9" x2="2095" y2="626.9" stroke="#000" stroke-width="4.8" opacity="0.50"/>
<line x1="2095" y1="626.9" x2="2407" y2="626.9" stroke="rgb(149,149,149)" stroke-width="5"/>
<line x1="1877.7" y1="662.4" x2="2095" y2="662.4" stroke="#000" stroke-width="4.8" opacity="0.77"/>
<line x1="2095" y1="662.4" x2="2407" y2="662.4" stroke="rgb(98,98,98)" stroke-width="3.8"/>
<line x1="1877.7" y1="697.8" x2="2095" y2="697.8" stroke="#000" stroke-width="4.8" opacity="0.50"/>
<line x1="2095" y1="697.8" x2="2407" y2="697.8" stroke="rgb(149,149,149)" stroke-width="5"/>
<line x1="1877.7" y1="733.3" x2="2095" y2="733.3" stroke="#000" stroke-width="4.8" opacity="0.72"/>
<line x1="2095" y1="733.3" x2="2407" y2="733.3" stroke="rgb(107,107,107)" stroke-width="4"/>
<line x1="1877.7" y1="768.8" x2="2095" y2="768.8" stroke="#000" stroke-width="4.8" opacity="0.54"/>
<line x1="2095" y1="768.8" x2="2407" y2="768.8" stroke="rgb(141,141,141)" stroke-width="4.8"/>
<line x1="1877.7" y1="804.2" x2="2095" y2="804.2" stroke="#000" stroke-width="4.8" opacity="0.50"/>
<line x1="2095" y1="804.2" x2="2407" y2="804.2" stroke="rgb(149,149,149)" stroke-width="5"/>
<line x1="1877.7" y1="839.7" x2="2095" y2="839.7" stroke="#000" stroke-width="4.8" opacity="0.77"/>
<line x1="2095" y1="839.7" x2="2407" y2="839.7" stroke="rgb(98,98,98)" stroke-width="3.8"/>
<line x1="1877.7" y1="875.1" x2="2095" y2="875.1" stroke="#000" stroke-width="4.8" opacity="0.54"/>
<line x1="2095" y1="875.1" x2="2407" y2="875.1" stroke="rgb(141,141,141)" stroke-width="4.8"/>
<line x1="1877.7" y1="910.6" x2="2095" y2="910.6" stroke="#000" stroke-width="4.8" opacity="0.50"/>
<line x1="2095" y1="910.6" x2="2407" y2="910.6" stroke="rgb(149,149,149)" stroke-width="5"/>
<line x1="1877.7" y1="946.1" x2="2095" y2="946.1" stroke="#000" stroke-width="4.8" opacity="0.54"/>
<line x1="2095" y1="946.1" x2="2407" y2="946.1" stroke="rgb(141,141,141)" stroke-width="4.8"/>
<line x1="1877.7" y1="981.5" x2="2095" y2="981.5" stroke="#000" stroke-width="4.8" opacity="0.77"/>
<line x1="2095" y1="981.5" x2="2407" y2="981.5" stroke="rgb(98,98,98)" stroke-width="3.8"/>
<line x1="1877.7" y1="1017" x2="2095" y2="1017" stroke="#000" stroke-width="4.8" opacity="0.54"/>
<line x1="2095" y1="1017" x2="2407" y2="1017" stroke="rgb(141,141,141)" stroke-width="4.8"/>
<line x1="1877.7" y1="1052.4" x2="2095" y2="1052.4" stroke="#000" stroke-width="4.8" opacity="0.50"/>
<line x1="2095" y1="1052.4" x2="2407" y2="1052.4" stroke="rgb(149,149,149)" stroke-width="5"/>
<line x1="1877.7" y1="1087.9" x2="2095" y2="1087.9" stroke="#000" stroke-width="4.8" opacity="0.77"/>
<line x1="2095" y1="1087.9" x2="2407" y2="1087.9" stroke="rgb(98,98,98)" stroke-width="3.8"/>
<line x1="1877.7" y1="1123.4" x2="2095" y2="1123.4" stroke="#000" stroke-width="4.8" opacity="0.50"/>
<line x1="2095" y1="1123.4" x2="2407" y2="1123.4" stroke="rgb(149,149,149)" stroke-width="5"/>
<line x1="1877.7" y1="1158.8" x2="2095" y2="1158.8" stroke="#000" stroke-width="4.8" opacity="0.72"/>
<line x1="2095" y1="1158.8" x2="2407" y2="1158.8" stroke="rgb(107,107,107)" stroke-width="4"/>
<line x1="1877.7" y1="1194.3" x2="2095" y2="1194.3" stroke="#000" stroke-width="4.8" opacity="0.54"/>
<line x1="2095" y1="1194.3" x2="2407" y2="1194.3" stroke="rgb(141,141,141)" stroke-width="4.8"/>
<line x1="1877.7" y1="1229.7" x2="2095" y2="1229.7" stroke="#000" stroke-width="4.8" opacity="0.50"/>
<line x1="2095" y1="1229.7" x2="2407" y2="1229.7" stroke="rgb(149,149,149)" stroke-width="5"/>
<line x1="1877.7" y1="1265.2" x2="2095" y2="1265.2" stroke="#000" stroke-width="4.8" opacity="0.77"/>
<line x1="2095" y1="1265.2" x2="2407" y2="1265.2" stroke="rgb(98,98,98)" stroke-width="3.8"/>
<line x1="1877.7" y1="1300.7" x2="2095" y2="1300.7" stroke="#000" stroke-width="4.8" opacity="0.54"/>
<line x1="2095" y1="1300.7" x2="2407" y2="1300.7" stroke="rgb(141,141,141)" stroke-width="4.8"/>
<line x1="1877.7" y1="1336.1" x2="2095" y2="1336.1" stroke="#000" stroke-width="4.8" opacity="0.50"/>
<line x1="2095" y1="1336.1" x2="2407" y2="1336.1" stroke="rgb(149,149,149)" stroke-width="5"/>
<line x1="1877.7" y1="1371.6" x2="2095" y2="1371.6" stroke="#000" stroke-width="4.8" opacity="0.54"/>
<line x1="2095" y1="1371.6" x2="2407" y2="1371.6" stroke="rgb(141,141,141)" stroke-width="4.8"/>
<line x1="1877.7" y1="1407" x2="2095" y2="1407" stroke="#000" stroke-width="4.8" opacity="0.77"/>
<line x1="2095" y1="1407" x2="2407" y2="1407" stroke="rgb(98,98,98)" stroke-width="3.8"/>
<line x1="1877.7" y1="1442.5" x2="2095" y2="1442.5" stroke="#000" stroke-width="4.8" opacity="0.54"/>
<line x1="2095" y1="1442.5" x2="2407" y2="1442.5" stroke="rgb(141,141,141)" stroke-width="4.8"/>
<line x1="1877.7" y1="1478" x2="2095" y2="1478" stroke="#000" stroke-width="4.8" opacity="0.50"/>
<line x1="2095" y1="1478" x2="2407" y2="1478" stroke="rgb(149,149,149)" stroke-width="5"/>
<line x1="1877.7" y1="1513.4" x2="2095" y2="1513.4" stroke="#000" stroke-width="4.8" opacity="0.77"/>
<line x1="2095" y1="1513.4" x2="2407" y2="1513.4" stroke="rgb(98,98,98)" stroke-width="3.8"/>
<line x1="1877.7" y1="1548.9" x2="2095" y2="1548.9" stroke="#000" stroke-width="4.8" opacity="0.50"/>
<line x1="2095" y1="1548.9" x2="2407" y2="1548.9" stroke="rgb(149,149,149)" stroke-width="5"/>
<line x1="1877.7" y1="1584.3" x2="2095" y2="1584.3" stroke="#000" stroke-width="4.8" opacity="0.72"/>
<line x1="2095" y1="1584.3" x2="2407" y2="1584.3" stroke="rgb(107,107,107)" stroke-width="4"/>
<line x1="1877.7" y1="1619.8" x2="2095" y2="1619.8" stroke="#000" stroke-width="4.8" opacity="0.54"/>
<line x1="2095" y1="1619.8" x2="2407" y2="1619.8" stroke="rgb(141,141,141)" stroke-width="4.8"/>
<line x1="1877.7" y1="1655.3" x2="2095" y2="1655.3" stroke="#000" stroke-width="4.8" opacity="0.50"/>
<line x1="2095" y1="1655.3" x2="2407" y2="1655.3" stroke="rgb(149,149,149)" stroke-width="5"/>
<line x1="1877.7" y1="1690.7" x2="2095" y2="1690.7" stroke="#000" stroke-width="4.8" opacity="0.77"/>
<line x1="2095" y1="1690.7" x2="2407" y2="1690.7" stroke="rgb(98,98,98)" stroke-width="3.8"/>
<line x1="1877.7" y1="1726.2" x2="2095" y2="1726.2" stroke="#000" stroke-width="4.8" opacity="0.54"/>
<line x1="2095" y1="1726.2" x2="2407" y2="1726.2" stroke="rgb(141,141,141)" stroke-width="4.8"/>
<line x1="1877.7" y1="1761.6" x2="2095" y2="1761.6" stroke="#000" stroke-width="4.8" opacity="0.50"/>
<line x1="2095" y1="1761.6" x2="2407" y2="1761.6" stroke="rgb(149,149,149)" stroke-width="5"/>
<line x1="1877.7" y1="1797.1" x2="2095" y2="1797.1" stroke="#000" stroke-width="4.8" opacity="0.54"/>
<line x1="2095" y1="1797.1" x2="2407" y2="1797.1" stroke="rgb(141,141,141)" stroke-width="4.8"/>
<line x1="1877.7" y1="1832.6" x2="2095" y2="1832.6" stroke="#000" stroke-width="4.8" opacity="0.77"/>
<line x1="2095" y1="1832.6" x2="2407" y2="1832.6" stroke="rgb(98,98,98)" stroke-width="3.8"/>
<text x="2123" y="592.5" font-family="'Liberation Mono','DejaVu Sans Mono',monospace" font-size="33.4" fill="#484848" textLength="100.2" lengthAdjust="spacingAndGlyphs" stroke="#484848" stroke-width="0.7" stroke-linejoin="round">Irak2</text>
<text x="2123" y="627.9" font-family="'Liberation Mono','DejaVu Sans Mono',monospace" font-size="33.4" fill="#484848" textLength="100.2" lengthAdjust="spacingAndGlyphs" stroke="#484848" stroke-width="0.7" stroke-linejoin="round">Hmgb1</text>
<text x="2123" y="663.4" font-family="'Liberation Mono','DejaVu Sans Mono',monospace" font-size="33.4" fill="#484848" textLength="80.2" lengthAdjust="spacingAndGlyphs" stroke="#484848" stroke-width="0.7" stroke-linejoin="round">Tab2</text>
<text x="2123" y="698.8" font-family="'Liberation Mono','DejaVu Sans Mono',monospace" font-size="33.4" fill="#484848" textLength="80.2" lengthAdjust="spacingAndGlyphs" stroke="#484848" stroke-width="0.7" stroke-linejoin="round">Tab1</text>
<text x="2123" y="734.3" font-family="'Liberation Mono','DejaVu Sans Mono',monospace" font-size="33.4" fill="#484848" textLength="100.2" lengthAdjust="spacingAndGlyphs" stroke="#484848" stroke-width="0.7" stroke-linejoin="round">Traf2</text>
<text x="2123" y="769.8" font-family="'Liberation Mono','DejaVu Sans Mono',monospace" font-size="33.4" fill="#484848" textLength="60.2" lengthAdjust="spacingAndGlyphs" stroke="#484848" stroke-width="0.7" stroke-linejoin="round">Lbp</text>
<text x="2123" y="805.2" font-family="'Liberation Mono','DejaVu Sans Mono',monospace" font-size="33.4" fill="#484848" textLength="120.3" lengthAdjust="spacingAndGlyphs" stroke="#484848" stroke-width="0.7" stroke-linejoin="round">Ptpn11</text>
<text x="2123" y="840.7" font-family="'Liberation Mono','DejaVu Sans Mono',monospace" font-size="33.4" fill="#484848" textLength="160.4" lengthAdjust="spacingAndGlyphs" stroke="#484848" stroke-width="0.7" stroke-linejoin="round">Mapkapk2</text>
<text x="2123" y="876.1" font-family="'Liberation Mono','DejaVu Sans Mono',monospace" font-size="33.4" fill="#484848" textLength="100.2" lengthAdjust="spacingAndGlyphs" stroke="#484848" stroke-width="0.7" stroke-linejoin="round">Irak1</text>
<text x="2123" y="911.6" font-family="'Liberation Mono','DejaVu Sans Mono',monospace" font-size="33.4" fill="#484848" textLength="120.3" lengthAdjust="spacingAndGlyphs" stroke="#484848" stroke-width="0.7" stroke-linejoin="round">Ticam1</text>
<text x="2123" y="947.1" font-family="'Liberation Mono','DejaVu Sans Mono',monospace" font-size="33.4" fill="#484848" textLength="80.2" lengthAdjust="spacingAndGlyphs" stroke="#484848" stroke-width="0.7" stroke-linejoin="round">Fadd</text>
<text x="2123" y="982.5" font-family="'Liberation Mono','DejaVu Sans Mono',monospace" font-size="33.4" fill="#484848" textLength="100.2" lengthAdjust="spacingAndGlyphs" stroke="#484848" stroke-width="0.7" stroke-linejoin="round">Nfkb2</text>
<text x="2123" y="1018" font-family="'Liberation Mono','DejaVu Sans Mono',monospace" font-size="33.4" fill="#484848" textLength="80.2" lengthAdjust="spacingAndGlyphs" stroke="#484848" stroke-width="0.7" stroke-linejoin="round">Tlr4</text>
<text x="2123" y="1053.4" font-family="'Liberation Mono','DejaVu Sans Mono',monospace" font-size="33.4" fill="#484848" textLength="80.2" lengthAdjust="spacingAndGlyphs" stroke="#484848" stroke-width="0.7" stroke-linejoin="round">Cd14</text>
<text x="2123" y="1088.9" font-family="'Liberation Mono','DejaVu Sans Mono',monospace" font-size="33.4" fill="#484848" textLength="100.2" lengthAdjust="spacingAndGlyphs" stroke="#484848" stroke-width="0.7" stroke-linejoin="round">Ikbkg</text>
<text x="2123" y="1124.4" font-family="'Liberation Mono','DejaVu Sans Mono',monospace" font-size="33.4" fill="#484848" textLength="120.3" lengthAdjust="spacingAndGlyphs" stroke="#484848" stroke-width="0.7" stroke-linejoin="round">Fbxw11</text>
<text x="2123" y="1159.8" font-family="'Liberation Mono','DejaVu Sans Mono',monospace" font-size="33.4" fill="#484848" textLength="160.4" lengthAdjust="spacingAndGlyphs" stroke="#484848" stroke-width="0.7" stroke-linejoin="round">Mapkapk3</text>
<text x="2123" y="1195.3" font-family="'Liberation Mono','DejaVu Sans Mono',monospace" font-size="33.4" fill="#484848" textLength="80.2" lengthAdjust="spacingAndGlyphs" stroke="#484848" stroke-width="0.7" stroke-linejoin="round">Rela</text>
<text x="2123" y="1230.7" font-family="'Liberation Mono','DejaVu Sans Mono',monospace" font-size="33.4" fill="#484848" textLength="80.2" lengthAdjust="spacingAndGlyphs" stroke="#484848" stroke-width="0.7" stroke-linejoin="round">Nod1</text>
<text x="2123" y="1266.2" font-family="'Liberation Mono','DejaVu Sans Mono',monospace" font-size="33.4" fill="#484848" textLength="140.3" lengthAdjust="spacingAndGlyphs" stroke="#484848" stroke-width="0.7" stroke-linejoin="round">Nkiras2</text>
<text x="2123" y="1301.7" font-family="'Liberation Mono','DejaVu Sans Mono',monospace" font-size="33.4" fill="#484848" textLength="80.2" lengthAdjust="spacingAndGlyphs" stroke="#484848" stroke-width="0.7" stroke-linejoin="round">Ly96</text>
<text x="2123" y="1337.1" font-family="'Liberation Mono','DejaVu Sans Mono',monospace" font-size="33.4" fill="#484848" textLength="80.2" lengthAdjust="spacingAndGlyphs" stroke="#484848" stroke-width="0.7" stroke-linejoin="round">Dnm3</text>
<text x="2123" y="1372.6" font-family="'Liberation Mono','DejaVu Sans Mono',monospace" font-size="33.4" fill="#484848" textLength="80.2" lengthAdjust="spacingAndGlyphs" stroke="#484848" stroke-width="0.7" stroke-linejoin="round">Atf1</text>
<text x="2123" y="1408" font-family="'Liberation Mono','DejaVu Sans Mono',monospace" font-size="33.4" fill="#484848" textLength="100.2" lengthAdjust="spacingAndGlyphs" stroke="#484848" stroke-width="0.7" stroke-linejoin="round">Tirap</text>
<text x="2123" y="1443.5" font-family="'Liberation Mono','DejaVu Sans Mono',monospace" font-size="33.4" fill="#484848" textLength="100.2" lengthAdjust="spacingAndGlyphs" stroke="#484848" stroke-width="0.7" stroke-linejoin="round">Ripk1</text>
<text x="2123" y="1479" font-family="'Liberation Mono','DejaVu Sans Mono',monospace" font-size="33.4" fill="#484848" textLength="100.2" lengthAdjust="spacingAndGlyphs" stroke="#484848" stroke-width="0.7" stroke-linejoin="round">Peli2</text>
<text x="2123" y="1514.4" font-family="'Liberation Mono','DejaVu Sans Mono',monospace" font-size="33.4" fill="#484848" textLength="100.2" lengthAdjust="spacingAndGlyphs" stroke="#484848" stroke-width="0.7" stroke-linejoin="round">Birc2</text>
<text x="2123" y="1549.9" font-family="'Liberation Mono','DejaVu Sans Mono',monospace" font-size="33.4" fill="#484848" textLength="120.3" lengthAdjust="spacingAndGlyphs" stroke="#484848" stroke-width="0.7" stroke-linejoin="round">Map2k6</text>
<text x="2123" y="1585.3" font-family="'Liberation Mono','DejaVu Sans Mono',monospace" font-size="33.4" fill="#484848" textLength="140.3" lengthAdjust="spacingAndGlyphs" stroke="#484848" stroke-width="0.7" stroke-linejoin="round">Rps6ka5</text>
<text x="2123" y="1620.8" font-family="'Liberation Mono','DejaVu Sans Mono',monospace" font-size="33.4" fill="#484848" textLength="100.2" lengthAdjust="spacingAndGlyphs" stroke="#484848" stroke-width="0.7" stroke-linejoin="round">Traf6</text>
<text x="2123" y="1656.3" font-family="'Liberation Mono','DejaVu Sans Mono',monospace" font-size="33.4" fill="#484848" textLength="80.2" lengthAdjust="spacingAndGlyphs" stroke="#484848" stroke-width="0.7" stroke-linejoin="round">Irf3</text>
<text x="2123" y="1691.7" font-family="'Liberation Mono','DejaVu Sans Mono',monospace" font-size="33.4" fill="#484848" textLength="120.3" lengthAdjust="spacingAndGlyphs" stroke="#484848" stroke-width="0.7" stroke-linejoin="round">Map2k7</text>
<text x="2123" y="1727.2" font-family="'Liberation Mono','DejaVu Sans Mono',monospace" font-size="33.4" fill="#484848" textLength="120.3" lengthAdjust="spacingAndGlyphs" stroke="#484848" stroke-width="0.7" stroke-linejoin="round">Map3k8</text>
<text x="2123" y="1762.6" font-family="'Liberation Mono','DejaVu Sans Mono',monospace" font-size="33.4" fill="#484848" textLength="140.3" lengthAdjust="spacingAndGlyphs" stroke="#484848" stroke-width="0.7" stroke-linejoin="round">Ppp2r1b</text>
<text x="2123" y="1798.1" font-family="'Liberation Mono','DejaVu Sans Mono',monospace" font-size="33.4" fill="#484848" textLength="100.2" lengthAdjust="spacingAndGlyphs" stroke="#484848" stroke-width="0.7" stroke-linejoin="round">S100b</text>
<text x="2123" y="1833.6" font-family="'Liberation Mono','DejaVu Sans Mono',monospace" font-size="33.4" fill="#484848" textLength="140.3" lengthAdjust="spacingAndGlyphs" stroke="#484848" stroke-width="0.7" stroke-linejoin="round">Rps6ka1</text>
<text x="2126" y="520" font-family="'Liberation Mono','DejaVu Sans Mono',monospace" font-size="43.8" fill="#707070" textLength="263" lengthAdjust="spacingAndGlyphs" stroke="#707070" stroke-width="1.6" stroke-linejoin="round">SampleName</text>
</g>
<g id="panelB">
<rect x="54.5" y="2192" width="1726" height="1726.5" fill="#f2f2f2"/>
<text x="24" y="2143.5" font-family="'Liberation Sans',Arial,Helvetica,sans-serif" font-size="102" fill="#000" font-weight="bold" stroke="#000" stroke-width="2.0" stroke-linejoin="round">B</text>
<text x="571.8" y="2147" font-family="'Liberation Sans',Arial,Helvetica,sans-serif" font-size="71" fill="#000" font-weight="bold" textLength="721.2" lengthAdjust="spacingAndGlyphs" stroke="#000" stroke-width="2.0" stroke-linejoin="round">NPC CRB vs WT CRB</text>
<text x="660" y="2255" font-family="'DejaVu Sans',Verdana,sans-serif" font-size="56.5" fill="#0a0a0a" font-weight="bold" textLength="501" lengthAdjust="spacingAndGlyphs" stroke="#0a0a0a" stroke-width="2.4" stroke-linejoin="round">Enrichment plot:</text>
<text x="67" y="2340.5" font-family="'Liberation Sans',Arial,Helvetica,sans-serif" font-size="62" fill="#000" font-weight="bold" textLength="1709" lengthAdjust="spacingAndGlyphs" stroke="#000" stroke-width="3.0" stroke-linejoin="round">REACTOME_TOLL_LIKE_RECEPTOR_4_TLR4_CASCADE</text>
<rect x="253" y="2377" width="1504" height="1305" fill="#fff"/>
<line x1="253" y1="2483.8" x2="1757" y2="2483.8" stroke="#eaeaea" stroke-width="3" stroke-dasharray="4 5"/>
<line x1="253" y1="2600.5" x2="1757" y2="2600.5" stroke="#eaeaea" stroke-width="3" stroke-dasharray="4 5"/>
<line x1="253" y1="2720.8" x2="1757" y2="2720.8" stroke="#eaeaea" stroke-width="3" stroke-dasharray="4 5"/>
<line x1="253" y1="2839.7" x2="1757" y2="2839.7" stroke="#eaeaea" stroke-width="3" stroke-dasharray="4 5"/>
<line x1="253" y1="3357.7" x2="1757" y2="3357.7" stroke="#eaeaea" stroke-width="3" stroke-dasharray="4 5"/>
<line x1="253" y1="3562" x2="1757" y2="3562" stroke="#eaeaea" stroke-width="3" stroke-dasharray="4 5"/>
<line x1="253" y1="3664.3" x2="1757" y2="3664.3" stroke="#eaeaea" stroke-width="3" stroke-dasharray="4 5"/>
<line x1="573.6" y1="2377" x2="573.6" y2="3003.5" stroke="#ebebeb" stroke-width="3" stroke-dasharray="4 5"/>
<line x1="573.6" y1="3262.7" x2="573.6" y2="3682" stroke="#eaeaea" stroke-width="3" stroke-dasharray="4 5"/>
<line x1="899" y1="2377" x2="899" y2="3003.5" stroke="#ebebeb" stroke-width="3" stroke-dasharray="4 5"/>
<line x1="899" y1="3262.7" x2="899" y2="3682" stroke="#eaeaea" stroke-width="3" stroke-dasharray="4 5"/>
<line x1="1220.4" y1="2377" x2="1220.4" y2="3003.5" stroke="#ebebeb" stroke-width="3" stroke-dasharray="4 5"/>
<line x1="1220.4" y1="3262.7" x2="1220.4" y2="3682" stroke="#eaeaea" stroke-width="3" stroke-dasharray="4 5"/>
<line x1="1546.8" y1="2377" x2="1546.8" y2="3003.5" stroke="#ebebeb" stroke-width="3" stroke-dasharray="4 5"/>
<line x1="1546.8" y1="3262.7" x2="1546.8" y2="3682" stroke="#eaeaea" stroke-width="3" stroke-dasharray="4 5"/>
<line x1="852.5" y1="3262.7" x2="852.5" y2="3682" stroke="#cfcfcf" stroke-width="3.5" stroke-dasharray="12 8"/>
<polygon points="253,3465 253,3372 256,3382 260,3393.5 268,3402 278,3408 292,3415 308,3420 335,3427 367.4,3432 410,3437 456.7,3441 515,3444.5 575.7,3447 640,3450.5 694.8,3453 722,3456 722,3465" fill="#c0c0c0"/>
<polygon points="1081.5,3459 1685.7,3459 1685.7,3661 1681,3661 1680,3600 1678.6,3545 1674,3531 1667.9,3521.4 1657,3513 1644,3506.5 1615,3499.5 1584.5,3494.6 1540,3490.5 1495,3487 1435,3483 1376,3479.8 1300,3473.5 1221,3467.9 1150,3464 1081.5,3461" fill="#c0c0c0"/>
<line x1="253" y1="2956.5" x2="1757" y2="2956.5" stroke="#a8a8a8" stroke-width="3.5"/>
<line x1="253" y1="3003.5" x2="1757" y2="3003.5" stroke="#d4d4d4" stroke-width="5"/>
<g>
<rect x="252.6" y="3010.4" width="8.9" height="201.1" fill="#333"/>
<rect x="261.5" y="3010.4" width="8.9" height="201.1" fill="#888"/>
<rect x="270.4" y="3010.4" width="14.2" height="201.1" fill="#111"/>
<rect x="284.6" y="3010.4" width="14.3" height="201.1" fill="#888"/>
<rect x="298.9" y="3010.4" width="20.5" height="201.1" fill="#333"/>
<rect x="319.4" y="3010.4" width="10.6" height="201.1" fill="#888"/>
<rect x="339.2" y="3010.4" width="8.3" height="201.1" fill="#777"/>
<rect x="347.5" y="3010.4" width="6.5" height="201.1" fill="#555"/>
<rect x="354" y="3010.4" width="5" height="201.1" fill="#222"/>
<rect x="371.6" y="3010.4" width="15.4" height="201.1" fill="#444"/>
<rect x="387" y="3010.4" width="16.7" height="201.1" fill="#777"/>
<rect x="418.6" y="3010.4" width="8.2" height="201.1" fill="#444"/>
<rect x="426.8" y="3010.4" width="8.2" height="201.1" fill="#777"/>
<rect x="455" y="3010.4" width="8" height="201.1" fill="#777"/>
<rect x="474.8" y="3010.4" width="8.2" height="201.1" fill="#999"/>
<rect x="494.6" y="3010.4" width="11.4" height="201.1" fill="#666"/>
<rect x="506" y="3010.4" width="7.8" height="201.1" fill="#bbb"/>
<rect x="513.8" y="3010.4" width="8.9" height="201.1" fill="#222"/>
<rect x="536" y="3010.4" width="6.6" height="201.1" fill="#555"/>
<rect x="550.8" y="3010.4" width="8.2" height="201.1" fill="#999"/>
<rect x="559" y="3010.4" width="6.7" height="201.1" fill="#bbb"/>
<rect x="565.7" y="3010.4" width="18.3" height="201.1" fill="#777"/>
<rect x="598.8" y="3010.4" width="6.6" height="201.1" fill="#999"/>
<rect x="613.7" y="3010.4" width="8.3" height="201.1" fill="#999"/>
<rect x="633.5" y="3010.4" width="8.3" height="201.1" fill="#444"/>
<rect x="641.8" y="3010.4" width="8.2" height="201.1" fill="#777"/>
<rect x="673" y="3010.4" width="10" height="201.1" fill="#999"/>
<rect x="701" y="3010.4" width="13.5" height="201.1" fill="#777"/>
<rect x="721.7" y="3010.4" width="8.3" height="201.1" fill="#888"/>
<rect x="738" y="3010.4" width="7.8" height="201.1" fill="#999"/>
<rect x="750.4" y="3010.4" width="8.6" height="201.1" fill="#666"/>
<rect x="759" y="3010.4" width="11.3" height="201.1" fill="#444"/>
<rect x="770.3" y="3010.4" width="11.5" height="201.1" fill="#999"/>
<rect x="805.3" y="3010.4" width="5.7" height="201.1" fill="#888"/>
<rect x="818.2" y="3010.4" width="8.3" height="201.1" fill="#999"/>
<rect x="841.7" y="3010.4" width="7.3" height="201.1" fill="#666"/>
<rect x="849" y="3010.4" width="7.2" height="201.1" fill="#999"/>
<rect x="884.4" y="3010.4" width="8.2" height="201.1" fill="#999"/>
<rect x="921" y="3010.4" width="5.7" height="201.1" fill="#444"/>
<rect x="961.4" y="3010.4" width="16.6" height="201.1" fill="#888"/>
<rect x="1065.6" y="3010.4" width="8.2" height="201.1" fill="#999"/>
<rect x="1101" y="3010.4" width="6" height="201.1" fill="#999"/>
<rect x="1126" y="3010.4" width="12.3" height="201.1" fill="#555"/>
<rect x="1141.6" y="3010.4" width="12.3" height="201.1" fill="#666"/>
<rect x="1162.5" y="3010.4" width="7.2" height="201.1" fill="#999"/>
<rect x="1210" y="3010.4" width="9.8" height="201.1" fill="#888"/>
<rect x="1219.8" y="3010.4" width="8" height="201.1" fill="#777"/>
<rect x="1227.8" y="3010.4" width="7.9" height="201.1" fill="#444"/>
<rect x="1261.5" y="3010.4" width="25.8" height="201.1" fill="#888"/>
<rect x="1289.3" y="3010.4" width="13.1" height="201.1" fill="#333"/>
<rect x="1305" y="3010.4" width="8.9" height="201.1" fill="#999"/>
<rect x="1338" y="3010.4" width="8" height="201.1" fill="#999"/>
<rect x="1369.8" y="3010.4" width="8" height="201.1" fill="#999"/>
<rect x="1385.7" y="3010.4" width="10.7" height="201.1" fill="#666"/>
<rect x="1396.4" y="3010.4" width="6.6" height="201.1" fill="#111"/>
<rect x="1413.5" y="3010.4" width="5.5" height="201.1" fill="#111"/>
<rect x="1419" y="3010.4" width="8" height="201.1" fill="#666"/>
<rect x="1433" y="3010.4" width="9" height="201.1" fill="#999"/>
<rect x="1446" y="3010.4" width="10" height="201.1" fill="#777"/>
<rect x="1456" y="3010.4" width="21.8" height="201.1" fill="#999"/>
<rect x="1512.7" y="3010.4" width="6.7" height="201.1" fill="#999"/>
<rect x="1529.4" y="3010.4" width="7.9" height="201.1" fill="#444"/>
<rect x="1560" y="3010.4" width="9.8" height="201.1" fill="#999"/>
<rect x="1583" y="3010.4" width="13.8" height="201.1" fill="#777"/>
<rect x="1613.5" y="3010.4" width="9.1" height="201.1" fill="#999"/>
<rect x="1638.5" y="3010.4" width="7.9" height="201.1" fill="#777"/>
<rect x="1665" y="3010.4" width="9" height="201.1" fill="#999"/>
</g>
<line x1="253" y1="3211.5" x2="1757" y2="3211.5" stroke="#dedede" stroke-width="3"/>
<line x1="253" y1="3262.7" x2="1757" y2="3262.7" stroke="#dedede" stroke-width="3"/>
<g>
<rect x="253" y="3211.5" width="39.5" height="51.2" fill="#ff2828"/>
<rect x="292" y="3211.5" width="265.5" height="51.2" fill="#ff4545"/>
<rect x="557" y="3211.5" width="86.5" height="51.2" fill="#ff6878"/>
<rect x="643" y="3211.5" width="91.5" height="51.2" fill="#ff8080"/>
<rect x="734" y="3211.5" width="350.5" height="51.2" fill="#ffb8e4"/>
<rect x="1084" y="3211.5" width="176.5" height="51.2" fill="#d5d2ff"/>
<rect x="1260" y="3211.5" width="125" height="51.2" fill="#c8c0ff"/>
<rect x="1384.5" y="3211.5" width="62" height="51.2" fill="#8888ff"/>
<rect x="1446" y="3211.5" width="185.1" height="51.2" fill="#7050f0"/>
<rect x="1630.6" y="3211.5" width="33.9" height="51.2" fill="#2800d8"/>
<rect x="1664" y="3211.5" width="18.5" height="51.2" fill="#5000b0"/>
<rect x="252.6" y="3211.5" width="8.9" height="51.2" fill="#000" opacity="0.07"/>
<rect x="261.5" y="3211.5" width="8.9" height="51.2" fill="#000" opacity="0.05"/>
<rect x="270.4" y="3211.5" width="14.2" height="51.2" fill="#000" opacity="0.08"/>
<rect x="284.6" y="3211.5" width="14.3" height="51.2" fill="#000" opacity="0.05"/>
<rect x="298.9" y="3211.5" width="20.5" height="51.2" fill="#000" opacity="0.07"/>
<rect x="319.4" y="3211.5" width="10.6" height="51.2" fill="#000" opacity="0.05"/>
<rect x="339.2" y="3211.5" width="8.3" height="51.2" fill="#000" opacity="0.05"/>
<rect x="347.5" y="3211.5" width="6.5" height="51.2" fill="#000" opacity="0.06"/>
<rect x="354" y="3211.5" width="5" height="51.2" fill="#000" opacity="0.08"/>
<rect x="371.6" y="3211.5" width="15.4" height="51.2" fill="#000" opacity="0.07"/>
<rect x="387" y="3211.5" width="16.7" height="51.2" fill="#000" opacity="0.05"/>
<rect x="418.6" y="3211.5" width="8.2" height="51.2" fill="#000" opacity="0.07"/>
<rect x="426.8" y="3211.5" width="8.2" height="51.2" fill="#000" opacity="0.05"/>
<rect x="455" y="3211.5" width="8" height="51.2" fill="#000" opacity="0.05"/>
<rect x="474.8" y="3211.5" width="8.2" height="51.2" fill="#000" opacity="0.04"/>
<rect x="494.6" y="3211.5" width="11.4" height="51.2" fill="#000" opacity="0.06"/>
<rect x="506" y="3211.5" width="7.8" height="51.2" fill="#000" opacity="0.03"/>
<rect x="513.8" y="3211.5" width="8.9" height="51.2" fill="#000" opacity="0.08"/>
<rect x="536" y="3211.5" width="6.6" height="51.2" fill="#000" opacity="0.06"/>
<rect x="550.8" y="3211.5" width="8.2" height="51.2" fill="#000" opacity="0.04"/>
<rect x="559" y="3211.5" width="6.7" height="51.2" fill="#000" opacity="0.03"/>
<rect x="565.7" y="3211.5" width="18.3" height="51.2" fill="#000" opacity="0.05"/>
<rect x="598.8" y="3211.5" width="6.6" height="51.2" fill="#000" opacity="0.04"/>
<rect x="613.7" y="3211.5" width="8.3" height="51.2" fill="#000" opacity="0.04"/>
<rect x="633.5" y="3211.5" width="8.3" height="51.2" fill="#000" opacity="0.07"/>
<rect x="641.8" y="3211.5" width="8.2" height="51.2" fill="#000" opacity="0.05"/>
<rect x="673" y="3211.5" width="10" height="51.2" fill="#000" opacity="0.04"/>
<rect x="701" y="3211.5" width="13.5" height="51.2" fill="#000" opacity="0.05"/>
<rect x="721.7" y="3211.5" width="8.3" height="51.2" fill="#000" opacity="0.05"/>
<rect x="738" y="3211.5" width="7.8" height="51.2" fill="#000" opacity="0.04"/>
<rect x="750.4" y="3211.5" width="8.6" height="51.2" fill="#000" opacity="0.06"/>
<rect x="759" y="3211.5" width="11.3" height="51.2" fill="#000" opacity="0.07"/>
<rect x="770.3" y="3211.5" width="11.5" height="51.2" fill="#000" opacity="0.04"/>
<rect x="805.3" y="3211.5" width="5.7" height="51.2" fill="#000" opacity="0.05"/>
<rect x="818.2" y="3211.5" width="8.3" height="51.2" fill="#000" opacity="0.04"/>
<rect x="841.7" y="3211.5" width="7.3" height="51.2" fill="#000" opacity="0.06"/>
<rect x="849" y="3211.5" width="7.2" height="51.2" fill="#000" opacity="0.04"/>
<rect x="884.4" y="3211.5" width="8.2" height="51.2" fill="#000" opacity="0.04"/>
<rect x="921" y="3211.5" width="5.7" height="51.2" fill="#000" opacity="0.07"/>
<rect x="961.4" y="3211.5" width="16.6" height="51.2" fill="#000" opacity="0.05"/>
<rect x="1065.6" y="3211.5" width="8.2" height="51.2" fill="#000" opacity="0.04"/>
<rect x="1101" y="3211.5" width="6" height="51.2" fill="#000" opacity="0.04"/>
<rect x="1126" y="3211.5" width="12.3" height="51.2" fill="#000" opacity="0.06"/>
<rect x="1141.6" y="3211.5" width="12.3" height="51.2" fill="#000" opacity="0.06"/>
<rect x="1162.5" y="3211.5" width="7.2" height="51.2" fill="#000" opacity="0.04"/>
<rect x="1210" y="3211.5" width="9.8" height="51.2" fill="#000" opacity="0.05"/>
<rect x="1219.8" y="3211.5" width="8" height="51.2" fill="#000" opacity="0.05"/>
<rect x="1227.8" y="3211.5" width="7.9" height="51.2" fill="#000" opacity="0.07"/>
<rect x="1261.5" y="3211.5" width="25.8" height="51.2" fill="#000" opacity="0.05"/>
<rect x="1289.3" y="3211.5" width="13.1" height="51.2" fill="#000" opacity="0.07"/>
<rect x="1305" y="3211.5" width="8.9" height="51.2" fill="#000" opacity="0.04"/>
<rect x="1338" y="3211.5" width="8" height="51.2" fill="#000" opacity="0.04"/>
<rect x="1369.8" y="3211.5" width="8" height="51.2" fill="#000" opacity="0.04"/>
<rect x="1385.7" y="3211.5" width="10.7" height="51.2" fill="#000" opacity="0.06"/>
<rect x="1396.4" y="3211.5" width="6.6" height="51.2" fill="#000" opacity="0.08"/>
<rect x="1413.5" y="3211.5" width="5.5" height="51.2" fill="#000" opacity="0.08"/>
<rect x="1419" y="3211.5" width="8" height="51.2" fill="#000" opacity="0.06"/>
<rect x="1433" y="3211.5" width="9" height="51.2" fill="#000" opacity="0.04"/>
<rect x="1446" y="3211.5" width="10" height="51.2" fill="#000" opacity="0.05"/>
<rect x="1456" y="3211.5" width="21.8" height="51.2" fill="#000" opacity="0.04"/>
<rect x="1512.7" y="3211.5" width="6.7" height="51.2" fill="#000" opacity="0.04"/>
<rect x="1529.4" y="3211.5" width="7.9" height="51.2" fill="#000" opacity="0.07"/>
<rect x="1560" y="3211.5" width="9.8" height="51.2" fill="#000" opacity="0.04"/>
<rect x="1583" y="3211.5" width="13.8" height="51.2" fill="#000" opacity="0.05"/>
<rect x="1613.5" y="3211.5" width="9.1" height="51.2" fill="#000" opacity="0.04"/>
<rect x="1638.5" y="3211.5" width="7.9" height="51.2" fill="#000" opacity="0.05"/>
<rect x="1665" y="3211.5" width="9" height="51.2" fill="#000" opacity="0.04"/>
</g>
<clipPath id="cpB"><rect x="253" y="2377" width="1504" height="1305"/></clipPath>
<polyline clip-path="url(#cpB)" points="254,2957 256,2885.7 260,2842 262,2814 273.8,2814 273.8,2770.6 277.8,2723 283.7,2663.5 287.7,2651.6 291.7,2633.7 301.6,2635.7 305.6,2604 311.5,2548.4 317.5,2524.6 327.4,2508.7 341.3,2518.7 347.2,2492.9 357,2483 359,2455 373,2465 383,2437.3 390.9,2423.4 400.8,2413.5 420.6,2427.4 430.6,2403.6 436.5,2405.6 456.3,2423.4 462.3,2409.5 480,2413.5 496,2427.4 506,2417.5 516,2421.4 521.8,2405.6 535.7,2415.5 555.6,2425.4 579.8,2423.4 601.6,2439.3 635.3,2455 651,2453 669,2471 702.8,2494.8 716.7,2494.8 744.4,2518.6 780,2534.5 827.8,2576 907,2639.7 986.5,2707 1066,2770.6 1100,2794.4 1169.4,2847.7 1206.5,2882.4 1234,2894 1262,2917 1290,2919.4 1299,2915 1313,2919.4 1340.7,2940.3 1368.5,2958.8 1387,2968 1401,2945 1410,2949.5 1424,2940.3 1442.6,2947.2 1456.5,2935.6 1475,2933.3 1489,2942.6 1507.4,2961 1528,2963.4 1533,2945 1551.4,2961 1581.5,2968 1593,2951.9 1609,2965.7 1618.5,2954 1632.4,2968 1641.7,2954 1655.6,2965.7 1667,2970.4 1669.4,2945 1685.6,2955.6" fill="none" stroke="#00fa00" stroke-width="15.5" stroke-linejoin="round" stroke-linecap="butt"/>
<line x1="251" y1="2377" x2="1759" y2="2377" stroke="#cdcdcd" stroke-width="5"/>
<line x1="1757" y1="2377" x2="1757" y2="3682" stroke="#d4d4d4" stroke-width="5"/>
<line x1="253" y1="2375" x2="253" y2="3684" stroke="#b4b4b4" stroke-width="4.5"/>
<line x1="251" y1="3682" x2="1759" y2="3682" stroke="#c4c4c4" stroke-width="4.5"/>
<line x1="244" y1="2483.8" x2="253" y2="2483.8" stroke="#c8c8c8" stroke-width="3"/>
<line x1="244" y1="2600.5" x2="253" y2="2600.5" stroke="#c8c8c8" stroke-width="3"/>
<line x1="244" y1="2720.8" x2="253" y2="2720.8" stroke="#c8c8c8" stroke-width="3"/>
<line x1="244" y1="2839.7" x2="253" y2="2839.7" stroke="#c8c8c8" stroke-width="3"/>
<line x1="244" y1="2956.3" x2="253" y2="2956.3" stroke="#c8c8c8" stroke-width="3"/>
<line x1="253" y1="3682" x2="253" y2="3690" stroke="#c0c0c0" stroke-width="3"/>
<line x1="573.6" y1="3682" x2="573.6" y2="3690" stroke="#c0c0c0" stroke-width="3"/>
<line x1="899" y1="3682" x2="899" y2="3690" stroke="#c0c0c0" stroke-width="3"/>
<line x1="1220.4" y1="3682" x2="1220.4" y2="3690" stroke="#c0c0c0" stroke-width="3"/>
<line x1="1546.8" y1="3682" x2="1546.8" y2="3690" stroke="#c0c0c0" stroke-width="3"/>
<text x="1155.6" y="2454" font-family="'Liberation Sans',Arial,Helvetica,sans-serif" font-size="63" fill="#0a0a0a" stroke="#0a0a0a" stroke-width="4.2" stroke-linejoin="round">ES: 0.468</text>
<text x="1155.6" y="2519" font-family="'Liberation Sans',Arial,Helvetica,sans-serif" font-size="63" fill="#0a0a0a" stroke="#0a0a0a" stroke-width="4.2" stroke-linejoin="round">NES: 1.483</text>
<text x="1155.6" y="2583.8" font-family="'Liberation Sans',Arial,Helvetica,sans-serif" font-size="63" fill="#0a0a0a" textLength="380.6" lengthAdjust="spacingAndGlyphs" stroke="#0a0a0a" stroke-width="4.2" stroke-linejoin="round">FDR-q: 0.123</text>
<text x="228.5" y="2503.4" font-family="'DejaVu Sans',Verdana,sans-serif" font-size="40" fill="#7c7c7c" text-anchor="end" textLength="61.5" lengthAdjust="spacingAndGlyphs" stroke="#7c7c7c" stroke-width="2.0" stroke-linejoin="round">0.4</text>
<text x="228.5" y="2620" font-family="'DejaVu Sans',Verdana,sans-serif" font-size="40" fill="#7c7c7c" text-anchor="end" textLength="61.5" lengthAdjust="spacingAndGlyphs" stroke="#7c7c7c" stroke-width="2.0" stroke-linejoin="round">0.3</text>
<text x="228.5" y="2737" font-family="'DejaVu Sans',Verdana,sans-serif" font-size="40" fill="#7c7c7c" text-anchor="end" textLength="61.5" lengthAdjust="spacingAndGlyphs" stroke="#7c7c7c" stroke-width="2.0" stroke-linejoin="round">0.2</text>
<text x="228.5" y="2856" font-family="'DejaVu Sans',Verdana,sans-serif" font-size="40" fill="#7c7c7c" text-anchor="end" textLength="61.5" lengthAdjust="spacingAndGlyphs" stroke="#7c7c7c" stroke-width="2.0" stroke-linejoin="round">0.1</text>
<text x="228.5" y="2977.7" font-family="'DejaVu Sans',Verdana,sans-serif" font-size="40" fill="#7c7c7c" text-anchor="end" textLength="61.5" lengthAdjust="spacingAndGlyphs" stroke="#7c7c7c" stroke-width="2.0" stroke-linejoin="round">0.0</text>
<text transform="translate(141 2957) rotate(-90)" font-family="'DejaVu Sans',Verdana,sans-serif" font-size="47.7" fill="#606060" textLength="531.6" lengthAdjust="spacingAndGlyphs" stroke="#606060" stroke-width="2.0" stroke-linejoin="round">Enrichment score (ES)</text>
<text x="230.5" y="3373.5" font-family="'Liberation Sans',Arial,Helvetica,sans-serif" font-size="35" fill="#2a2a2a" text-anchor="end" stroke="#2a2a2a" stroke-width="1.8" stroke-linejoin="round">2</text>
<text x="230.5" y="3474.5" font-family="'Liberation Sans',Arial,Helvetica,sans-serif" font-size="35" fill="#2a2a2a" text-anchor="end" stroke="#2a2a2a" stroke-width="1.8" stroke-linejoin="round">0</text>
<text x="230.5" y="3577.5" font-family="'Liberation Sans',Arial,Helvetica,sans-serif" font-size="35" fill="#2a2a2a" text-anchor="end" stroke="#2a2a2a" stroke-width="1.8" stroke-linejoin="round">-2</text>
<text x="230.5" y="3679.5" font-family="'Liberation Sans',Arial,Helvetica,sans-serif" font-size="35" fill="#2a2a2a" text-anchor="end" stroke="#2a2a2a" stroke-width="1.8" stroke-linejoin="round">-4</text>
<text transform="translate(171.5 3792) rotate(-90)" font-family="'Liberation Sans',Arial,Helvetica,sans-serif" font-size="40.5" fill="#2a2a2a" textLength="638" lengthAdjust="spacingAndGlyphs" stroke="#2a2a2a" stroke-width="1.4" stroke-linejoin="round">Ranked list metric (Signal2Noise)</text>
<text x="249.5" y="3738.5" font-family="'Liberation Sans',Arial,Helvetica,sans-serif" font-size="35.5" fill="#2a2a2a" text-anchor="middle" stroke="#2a2a2a" stroke-width="1.8" stroke-linejoin="round">0</text>
<text x="572.7" y="3738.5" font-family="'Liberation Sans',Arial,Helvetica,sans-serif" font-size="35.5" fill="#2a2a2a" text-anchor="middle" textLength="91.6" lengthAdjust="spacingAndGlyphs" stroke="#2a2a2a" stroke-width="1.8" stroke-linejoin="round">5,000</text>
<text x="896" y="3738.5" font-family="'Liberation Sans',Arial,Helvetica,sans-serif" font-size="35.5" fill="#2a2a2a" text-anchor="middle" textLength="110" lengthAdjust="spacingAndGlyphs" stroke="#2a2a2a" stroke-width="1.8" stroke-linejoin="round">10,000</text>
<text x="1222" y="3738.5" font-family="'Liberation Sans',Arial,Helvetica,sans-serif" font-size="35.5" fill="#2a2a2a" text-anchor="middle" textLength="108" lengthAdjust="spacingAndGlyphs" stroke="#2a2a2a" stroke-width="1.8" stroke-linejoin="round">15,000</text>
<text x="1543" y="3738.5" font-family="'Liberation Sans',Arial,Helvetica,sans-serif" font-size="35.5" fill="#2a2a2a" text-anchor="middle" textLength="113" lengthAdjust="spacingAndGlyphs" stroke="#2a2a2a" stroke-width="1.8" stroke-linejoin="round">20,000</text>
<text x="771" y="3795" font-family="'Liberation Sans',Arial,Helvetica,sans-serif" font-size="42.6" fill="#2a2a2a" textLength="471.3" lengthAdjust="spacingAndGlyphs" stroke="#2a2a2a" stroke-width="1.4" stroke-linejoin="round">Rank in Ordered Dataset</text>
<text x="260" y="3300" font-family="'Liberation Sans',Arial,Helvetica,sans-serif" font-size="29.5" fill="#ff4658" textLength="543.7" lengthAdjust="spacing" stroke="#ff4658" stroke-width="1.2" stroke-linejoin="round">'CRB_NPC' (positively correlated)</text>
<text x="1002.4" y="3667" font-family="'Liberation Sans',Arial,Helvetica,sans-serif" font-size="29.5" fill="#5454ff" textLength="582.1" lengthAdjust="spacing" stroke="#5454ff" stroke-width="1.2" stroke-linejoin="round">'CRB_CTRL' (negatively correlated)</text>
<rect x="716.6" y="3462.1" width="275.7" height="27.1" fill="#fff"/>
<text x="718.6" y="3485.7" font-family="'Liberation Sans',Arial,Helvetica,sans-serif" font-size="29.5" fill="#2a2a2a" textLength="270.7" lengthAdjust="spacing" stroke="#2a2a2a" stroke-width="1.2" stroke-linejoin="round">Zero cross at 9299</text>
<rect x="324.5" y="3835.5" width="1188.5" height="80" fill="#fff" stroke="#666" stroke-width="5.5"/>
<line x1="337" y1="3874.5" x2="388" y2="3874.5" stroke="#00fa00" stroke-width="8" stroke-linecap="round"/>
<text x="402" y="3889" font-family="'Liberation Sans',Arial,Helvetica,sans-serif" font-size="42.6" fill="#2a2a2a" textLength="340.4" lengthAdjust="spacingAndGlyphs" stroke="#2a2a2a" stroke-width="1.4" stroke-linejoin="round">Enrichment profile</text>
<line x1="765" y1="3874.5" x2="813.8" y2="3874.5" stroke="#4a4a4a" stroke-width="5"/>
<text x="828.7" y="3889" font-family="'Liberation Sans',Arial,Helvetica,sans-serif" font-size="42.6" fill="#2a2a2a" textLength="74.3" lengthAdjust="spacingAndGlyphs" stroke="#2a2a2a" stroke-width="1.4" stroke-linejoin="round">Hits</text>
<line x1="923.8" y1="3856.5" x2="974.4" y2="3856.5" stroke="#e6e6e6" stroke-width="3"/>
<line x1="1006" y1="3874.5" x2="1057.7" y2="3874.5" stroke="#d0d0d0" stroke-width="4"/>
<text x="1071.4" y="3889" font-family="'Liberation Sans',Arial,Helvetica,sans-serif" font-size="42.6" fill="#2a2a2a" textLength="425" lengthAdjust="spacingAndGlyphs" stroke="#2a2a2a" stroke-width="1.4" stroke-linejoin="round">Ranking metric scores</text>
</g>
<g id="heatB">
<rect x="1856" y="2139.5" width="112" height="456.3" fill="#c0c0c0"/>
<rect x="1968" y="2139.5" width="109.8" height="456.3" fill="#ffc800"/>
<text transform="translate(1893.8 2593.8) rotate(-90)" font-family="'Liberation Mono','DejaVu Sans Mono',monospace" font-size="35" fill="#2a2a2a" textLength="335.2" lengthAdjust="spacingAndGlyphs" opacity="0.85" stroke="#2a2a2a" stroke-width="1.5" stroke-linejoin="round">cerebellum_npc_1</text>
<text transform="translate(1930 2593.8) rotate(-90)" font-family="'Liberation Mono','DejaVu Sans Mono',monospace" font-size="35" fill="#2a2a2a" textLength="335.2" lengthAdjust="spacingAndGlyphs" opacity="0.85" stroke="#2a2a2a" stroke-width="1.5" stroke-linejoin="round">cerebellum_npc_2</text>
<text transform="translate(1966.5 2593.8) rotate(-90)" font-family="'Liberation Mono','DejaVu Sans Mono',monospace" font-size="35" fill="#2a2a2a" textLength="335.2" lengthAdjust="spacingAndGlyphs" opacity="0.85" stroke="#2a2a2a" stroke-width="1.5" stroke-linejoin="round">cerebellum_npc_3</text>
<text transform="translate(2001.8 2593.8) rotate(-90)" font-family="'Liberation Mono','DejaVu Sans Mono',monospace" font-size="35" fill="#2a2a2a" textLength="419" lengthAdjust="spacingAndGlyphs" opacity="0.85" stroke="#2a2a2a" stroke-width="1.5" stroke-linejoin="round">cerebellum_control_1</text>
<text transform="translate(2039.5 2593.8) rotate(-90)" font-family="'Liberation Mono','DejaVu Sans Mono',monospace" font-size="35" fill="#2a2a2a" textLength="419" lengthAdjust="spacingAndGlyphs" opacity="0.85" stroke="#2a2a2a" stroke-width="1.5" stroke-linejoin="round">cerebellum_control_2</text>
<text transform="translate(2075.3 2593.8) rotate(-90)" font-family="'Liberation Mono','DejaVu Sans Mono',monospace" font-size="35" fill="#2a2a2a" textLength="419" lengthAdjust="spacingAndGlyphs" opacity="0.85" stroke="#2a2a2a" stroke-width="1.5" stroke-linejoin="round">cerebellum_control_3</text>
<line x1="1858" y1="2139.5" x2="1858" y2="2673.8" stroke="#9a9a9a" stroke-width="4.4"/>
<line x1="1895.3" y1="2139.5" x2="1895.3" y2="2673.8" stroke="#666" stroke-width="4.4"/>
<line x1="1931.5" y1="2139.5" x2="1931.5" y2="2673.8" stroke="#444" stroke-width="4.4"/>
<line x1="1968" y1="2139.5" x2="1968" y2="2673.8" stroke="#8a8a70" stroke-width="4.4"/>
<line x1="2003.3" y1="2139.5" x2="2003.3" y2="2673.8" stroke="#222" stroke-width="4.4"/>
<line x1="2041" y1="2139.5" x2="2041" y2="2673.8" stroke="#8a7a30" stroke-width="4.4"/>
<line x1="2076.8" y1="2139.5" x2="2076.8" y2="2673.8" stroke="#999" stroke-width="4.4"/>
<g shape-rendering="crispEdges">
<rect x="1858" y="2673.8" width="37.6" height="36.8" fill="#ff5a5a"/>
<rect x="1895.3" y="2673.8" width="36.5" height="36.8" fill="#d5d5ff"/>
<rect x="1931.5" y="2673.8" width="36.8" height="36.8" fill="#ff0000"/>
<rect x="1968" y="2673.8" width="35.6" height="36.8" fill="#4500ad"/>
<rect x="2003.3" y="2673.8" width="38" height="36.8" fill="#4500ad"/>
<rect x="2041" y="2673.8" width="36.1" height="36.8" fill="#6b58ef"/>
<rect x="1858" y="2710.3" width="37.6" height="36.8" fill="#ff0000"/>
<rect x="1895.3" y="2710.3" width="36.5" height="36.8" fill="#ff7080"/>
<rect x="1931.5" y="2710.3" width="36.8" height="36.8" fill="#ff0000"/>
<rect x="1968" y="2710.3" width="35.6" height="36.8" fill="#4500ad"/>
<rect x="2003.3" y="2710.3" width="38" height="36.8" fill="#4500ad"/>
<rect x="2041" y="2710.3" width="36.1" height="36.8" fill="#d5d5ff"/>
<rect x="1858" y="2746.9" width="37.6" height="36.8" fill="#ff8989"/>
<rect x="1895.3" y="2746.9" width="36.5" height="36.8" fill="#ff7080"/>
<rect x="1931.5" y="2746.9" width="36.8" height="36.8" fill="#ff0000"/>
<rect x="1968" y="2746.9" width="35.6" height="36.8" fill="#4500ad"/>
<rect x="2003.3" y="2746.9" width="38" height="36.8" fill="#4500ad"/>
<rect x="2041" y="2746.9" width="36.1" height="36.8" fill="#2700d1"/>
<rect x="1858" y="2783.4" width="37.6" height="36.8" fill="#ff0000"/>
<rect x="1895.3" y="2783.4" width="36.5" height="36.8" fill="#6b58ef"/>
<rect x="1931.5" y="2783.4" width="36.8" height="36.8" fill="#ff3d3d"/>
<rect x="1968" y="2783.4" width="35.6" height="36.8" fill="#4500ad"/>
<rect x="2003.3" y="2783.4" width="38" height="36.8" fill="#4500ad"/>
<rect x="2041" y="2783.4" width="36.1" height="36.8" fill="#2700d1"/>
<rect x="1858" y="2819.9" width="37.6" height="36.8" fill="#ffc0e5"/>
<rect x="1895.3" y="2819.9" width="36.5" height="36.8" fill="#ffc0e5"/>
<rect x="1931.5" y="2819.9" width="36.8" height="36.8" fill="#ff0000"/>
<rect x="1968" y="2819.9" width="35.6" height="36.8" fill="#4500ad"/>
<rect x="2003.3" y="2819.9" width="38" height="36.8" fill="#4500ad"/>
<rect x="2041" y="2819.9" width="36.1" height="36.8" fill="#c7c1ff"/>
<rect x="1858" y="2856.5" width="37.6" height="36.8" fill="#ff0000"/>
<rect x="1895.3" y="2856.5" width="36.5" height="36.8" fill="#4500ad"/>
<rect x="1931.5" y="2856.5" width="36.8" height="36.8" fill="#ff5a5a"/>
<rect x="1968" y="2856.5" width="35.6" height="36.8" fill="#4500ad"/>
<rect x="2003.3" y="2856.5" width="38" height="36.8" fill="#4500ad"/>
<rect x="2041" y="2856.5" width="36.1" height="36.8" fill="#2700d1"/>
<rect x="1858" y="2893" width="37.6" height="36.8" fill="#ff0000"/>
<rect x="1895.3" y="2893" width="36.5" height="36.8" fill="#ff8989"/>
<rect x="1931.5" y="2893" width="36.8" height="36.8" fill="#ff7080"/>
<rect x="1968" y="2893" width="35.6" height="36.8" fill="#8888ff"/>
<rect x="2003.3" y="2893" width="38" height="36.8" fill="#6b58ef"/>
<rect x="2041" y="2893" width="36.1" height="36.8" fill="#4500ad"/>
<rect x="1858" y="2929.5" width="37.6" height="36.8" fill="#ff8989"/>
<rect x="1895.3" y="2929.5" width="36.5" height="36.8" fill="#c7c1ff"/>
<rect x="1931.5" y="2929.5" width="36.8" height="36.8" fill="#ff0000"/>
<rect x="1968" y="2929.5" width="35.6" height="36.8" fill="#4500ad"/>
<rect x="2003.3" y="2929.5" width="38" height="36.8" fill="#4500ad"/>
<rect x="2041" y="2929.5" width="36.1" height="36.8" fill="#c7c1ff"/>
<rect x="1858" y="2966" width="37.6" height="36.8" fill="#ff5a5a"/>
<rect x="1895.3" y="2966" width="36.5" height="36.8" fill="#ff3d3d"/>
<rect x="1931.5" y="2966" width="36.8" height="36.8" fill="#ff0000"/>
<rect x="1968" y="2966" width="35.6" height="36.8" fill="#c7c1ff"/>
<rect x="2003.3" y="2966" width="38" height="36.8" fill="#4500ad"/>
<rect x="2041" y="2966" width="36.1" height="36.8" fill="#4500ad"/>
<rect x="1858" y="3002.6" width="37.6" height="36.8" fill="#ff0000"/>
<rect x="1895.3" y="3002.6" width="36.5" height="36.8" fill="#4500ad"/>
<rect x="1931.5" y="3002.6" width="36.8" height="36.8" fill="#ff3d3d"/>
<rect x="1968" y="3002.6" width="35.6" height="36.8" fill="#4500ad"/>
<rect x="2003.3" y="3002.6" width="38" height="36.8" fill="#4500ad"/>
<rect x="2041" y="3002.6" width="36.1" height="36.8" fill="#8888ff"/>
<rect x="1858" y="3039.1" width="37.6" height="36.8" fill="#ff8989"/>
<rect x="1895.3" y="3039.1" width="36.5" height="36.8" fill="#2700d1"/>
<rect x="1931.5" y="3039.1" width="36.8" height="36.8" fill="#ff0000"/>
<rect x="1968" y="3039.1" width="35.6" height="36.8" fill="#4500ad"/>
<rect x="2003.3" y="3039.1" width="38" height="36.8" fill="#2700d1"/>
<rect x="2041" y="3039.1" width="36.1" height="36.8" fill="#2700d1"/>
<rect x="1858" y="3075.6" width="37.6" height="36.8" fill="#ff5a5a"/>
<rect x="1895.3" y="3075.6" width="36.5" height="36.8" fill="#4500ad"/>
<rect x="1931.5" y="3075.6" width="36.8" height="36.8" fill="#ff0000"/>
<rect x="1968" y="3075.6" width="35.6" height="36.8" fill="#4500ad"/>
<rect x="2003.3" y="3075.6" width="38" height="36.8" fill="#4500ad"/>
<rect x="2041" y="3075.6" width="36.1" height="36.8" fill="#2700d1"/>
<rect x="1858" y="3112.2" width="37.6" height="36.8" fill="#ffc0e5"/>
<rect x="1895.3" y="3112.2" width="36.5" height="36.8" fill="#ff8989"/>
<rect x="1931.5" y="3112.2" width="36.8" height="36.8" fill="#ff0000"/>
<rect x="1968" y="3112.2" width="35.6" height="36.8" fill="#4500ad"/>
<rect x="2003.3" y="3112.2" width="38" height="36.8" fill="#4500ad"/>
<rect x="2041" y="3112.2" width="36.1" height="36.8" fill="#ff8989"/>
<rect x="1858" y="3148.7" width="37.6" height="36.8" fill="#ff0000"/>
<rect x="1895.3" y="3148.7" width="36.5" height="36.8" fill="#8888ff"/>
<rect x="1931.5" y="3148.7" width="36.8" height="36.8" fill="#ff8989"/>
<rect x="1968" y="3148.7" width="35.6" height="36.8" fill="#4500ad"/>
<rect x="2003.3" y="3148.7" width="38" height="36.8" fill="#4500ad"/>
<rect x="2041" y="3148.7" width="36.1" height="36.8" fill="#c7c1ff"/>
<rect x="1858" y="3185.2" width="37.6" height="36.8" fill="#6b58ef"/>
<rect x="1895.3" y="3185.2" width="36.5" height="36.8" fill="#ff0000"/>
<rect x="1931.5" y="3185.2" width="36.8" height="36.8" fill="#ff7080"/>
<rect x="1968" y="3185.2" width="35.6" height="36.8" fill="#4500ad"/>
<rect x="2003.3" y="3185.2" width="38" height="36.8" fill="#6b58ef"/>
<rect x="2041" y="3185.2" width="36.1" height="36.8" fill="#d5d5ff"/>
<rect x="1858" y="3221.8" width="37.6" height="36.8" fill="#ff3d3d"/>
<rect x="1895.3" y="3221.8" width="36.5" height="36.8" fill="#ffc0e5"/>
<rect x="1931.5" y="3221.8" width="36.8" height="36.8" fill="#ff0000"/>
<rect x="1968" y="3221.8" width="35.6" height="36.8" fill="#4500ad"/>
<rect x="2003.3" y="3221.8" width="38" height="36.8" fill="#6b58ef"/>
<rect x="2041" y="3221.8" width="36.1" height="36.8" fill="#6b58ef"/>
<rect x="1858" y="3258.3" width="37.6" height="36.8" fill="#ff0000"/>
<rect x="1895.3" y="3258.3" width="36.5" height="36.8" fill="#d5d5ff"/>
<rect x="1931.5" y="3258.3" width="36.8" height="36.8" fill="#ffc0e5"/>
<rect x="1968" y="3258.3" width="35.6" height="36.8" fill="#4500ad"/>
<rect x="2003.3" y="3258.3" width="38" height="36.8" fill="#8888ff"/>
<rect x="2041" y="3258.3" width="36.1" height="36.8" fill="#ffc0e5"/>
<rect x="1858" y="3294.8" width="37.6" height="36.8" fill="#ff7080"/>
<rect x="1895.3" y="3294.8" width="36.5" height="36.8" fill="#ff8989"/>
<rect x="1931.5" y="3294.8" width="36.8" height="36.8" fill="#ff0000"/>
<rect x="1968" y="3294.8" width="35.6" height="36.8" fill="#4500ad"/>
<rect x="2003.3" y="3294.8" width="38" height="36.8" fill="#d5d5ff"/>
<rect x="2041" y="3294.8" width="36.1" height="36.8" fill="#ff8989"/>
<rect x="1858" y="3331.3" width="37.6" height="36.8" fill="#ff0000"/>
<rect x="1895.3" y="3331.3" width="36.5" height="36.8" fill="#ff8989"/>
<rect x="1931.5" y="3331.3" width="36.8" height="36.8" fill="#ff8989"/>
<rect x="1968" y="3331.3" width="35.6" height="36.8" fill="#2700d1"/>
<rect x="2003.3" y="3331.3" width="38" height="36.8" fill="#d5d5ff"/>
<rect x="2041" y="3331.3" width="36.1" height="36.8" fill="#4500ad"/>
<rect x="1858" y="3367.9" width="37.6" height="36.8" fill="#ff0000"/>
<rect x="1895.3" y="3367.9" width="36.5" height="36.8" fill="#8888ff"/>
<rect x="1931.5" y="3367.9" width="36.8" height="36.8" fill="#ffc0e5"/>
<rect x="1968" y="3367.9" width="35.6" height="36.8" fill="#c7c1ff"/>
<rect x="2003.3" y="3367.9" width="38" height="36.8" fill="#4500ad"/>
<rect x="2041" y="3367.9" width="36.1" height="36.8" fill="#2700d1"/>
<rect x="1858" y="3404.4" width="37.6" height="36.8" fill="#ff0000"/>
<rect x="1895.3" y="3404.4" width="36.5" height="36.8" fill="#2700d1"/>
<rect x="1931.5" y="3404.4" width="36.8" height="36.8" fill="#ff7080"/>
<rect x="1968" y="3404.4" width="35.6" height="36.8" fill="#4500ad"/>
<rect x="2003.3" y="3404.4" width="38" height="36.8" fill="#8888ff"/>
<rect x="2041" y="3404.4" width="36.1" height="36.8" fill="#c7c1ff"/>
<rect x="1858" y="3440.9" width="37.6" height="36.8" fill="#d5d5ff"/>
<rect x="1895.3" y="3440.9" width="36.5" height="36.8" fill="#d5d5ff"/>
<rect x="1931.5" y="3440.9" width="36.8" height="36.8" fill="#ff0000"/>
<rect x="1968" y="3440.9" width="35.6" height="36.8" fill="#6b58ef"/>
<rect x="2003.3" y="3440.9" width="38" height="36.8" fill="#4500ad"/>
<rect x="2041" y="3440.9" width="36.1" height="36.8" fill="#6b58ef"/>
<rect x="1858" y="3477.5" width="37.6" height="36.8" fill="#c7c1ff"/>
<rect x="1895.3" y="3477.5" width="36.5" height="36.8" fill="#d5d5ff"/>
<rect x="1931.5" y="3477.5" width="36.8" height="36.8" fill="#ff0000"/>
<rect x="1968" y="3477.5" width="35.6" height="36.8" fill="#ffc0e5"/>
<rect x="2003.3" y="3477.5" width="38" height="36.8" fill="#4500ad"/>
<rect x="2041" y="3477.5" width="36.1" height="36.8" fill="#8888ff"/>
<rect x="1858" y="3514" width="37.6" height="36.8" fill="#ff0000"/>
<rect x="1895.3" y="3514" width="36.5" height="36.8" fill="#ff5a5a"/>
<rect x="1931.5" y="3514" width="36.8" height="36.8" fill="#ff0000"/>
<rect x="1968" y="3514" width="35.6" height="36.8" fill="#4500ad"/>
<rect x="2003.3" y="3514" width="38" height="36.8" fill="#d5d5ff"/>
<rect x="2041" y="3514" width="36.1" height="36.8" fill="#ff7080"/>
<rect x="1858" y="3550.5" width="37.6" height="36.8" fill="#ff0000"/>
<rect x="1895.3" y="3550.5" width="36.5" height="36.8" fill="#ff7080"/>
<rect x="1931.5" y="3550.5" width="36.8" height="36.8" fill="#c7c1ff"/>
<rect x="1968" y="3550.5" width="35.6" height="36.8" fill="#4500ad"/>
<rect x="2003.3" y="3550.5" width="38" height="36.8" fill="#c7c1ff"/>
<rect x="2041" y="3550.5" width="36.1" height="36.8" fill="#d5d5ff"/>
<rect x="1858" y="3587.1" width="37.6" height="36.8" fill="#ffc0e5"/>
<rect x="1895.3" y="3587.1" width="36.5" height="36.8" fill="#ff0000"/>
<rect x="1931.5" y="3587.1" width="36.8" height="36.8" fill="#ff7080"/>
<rect x="1968" y="3587.1" width="35.6" height="36.8" fill="#8888ff"/>
<rect x="2003.3" y="3587.1" width="38" height="36.8" fill="#ffc0e5"/>
<rect x="2041" y="3587.1" width="36.1" height="36.8" fill="#4500ad"/>
<rect x="1858" y="3623.6" width="37.6" height="36.8" fill="#ff7080"/>
<rect x="1895.3" y="3623.6" width="36.5" height="36.8" fill="#ff7080"/>
<rect x="1931.5" y="3623.6" width="36.8" height="36.8" fill="#ff0000"/>
<rect x="1968" y="3623.6" width="35.6" height="36.8" fill="#4500ad"/>
<rect x="2003.3" y="3623.6" width="38" height="36.8" fill="#c7c1ff"/>
<rect x="2041" y="3623.6" width="36.1" height="36.8" fill="#ff5a5a"/>
<rect x="1858" y="3660.1" width="37.6" height="36.8" fill="#ff7080"/>
<rect x="1895.3" y="3660.1" width="36.5" height="36.8" fill="#4500ad"/>
<rect x="1931.5" y="3660.1" width="36.8" height="36.8" fill="#ff0000"/>
<rect x="1968" y="3660.1" width="35.6" height="36.8" fill="#c7c1ff"/>
<rect x="2003.3" y="3660.1" width="38" height="36.8" fill="#4500ad"/>
<rect x="2041" y="3660.1" width="36.1" height="36.8" fill="#d5d5ff"/>
<rect x="1858" y="3696.6" width="37.6" height="36.8" fill="#ff0000"/>
<rect x="1895.3" y="3696.6" width="36.5" height="36.8" fill="#c7c1ff"/>
<rect x="1931.5" y="3696.6" width="36.8" height="36.8" fill="#ff5a5a"/>
<rect x="1968" y="3696.6" width="35.6" height="36.8" fill="#4500ad"/>
<rect x="2003.3" y="3696.6" width="38" height="36.8" fill="#2700d1"/>
<rect x="2041" y="3696.6" width="36.1" height="36.8" fill="#ff3d3d"/>
<rect x="1858" y="3733.2" width="37.6" height="36.8" fill="#ffc0e5"/>
<rect x="1895.3" y="3733.2" width="36.5" height="36.8" fill="#c7c1ff"/>
<rect x="1931.5" y="3733.2" width="36.8" height="36.8" fill="#ff0000"/>
<rect x="1968" y="3733.2" width="35.6" height="36.8" fill="#d5d5ff"/>
<rect x="2003.3" y="3733.2" width="38" height="36.8" fill="#4500ad"/>
<rect x="2041" y="3733.2" width="36.1" height="36.8" fill="#ffc0e5"/>
<rect x="1858" y="3769.7" width="37.6" height="36.8" fill="#2700d1"/>
<rect x="1895.3" y="3769.7" width="36.5" height="36.8" fill="#c7c1ff"/>
<rect x="1931.5" y="3769.7" width="36.8" height="36.8" fill="#ff0000"/>
<rect x="1968" y="3769.7" width="35.6" height="36.8" fill="#6b58ef"/>
<rect x="2003.3" y="3769.7" width="38" height="36.8" fill="#4500ad"/>
<rect x="2041" y="3769.7" width="36.1" height="36.8" fill="#c7c1ff"/>
<rect x="1858" y="3806.2" width="37.6" height="36.8" fill="#ff8989"/>
<rect x="1895.3" y="3806.2" width="36.5" height="36.8" fill="#ff7080"/>
<rect x="1931.5" y="3806.2" width="36.8" height="36.8" fill="#ff0000"/>
<rect x="1968" y="3806.2" width="35.6" height="36.8" fill="#4500ad"/>
<rect x="2003.3" y="3806.2" width="38" height="36.8" fill="#c7c1ff"/>
<rect x="2041" y="3806.2" width="36.1" height="36.8" fill="#ff0000"/>
<rect x="1858" y="3842.8" width="37.6" height="36.8" fill="#4500ad"/>
<rect x="1895.3" y="3842.8" width="36.5" height="36.8" fill="#ff0000"/>
<rect x="1931.5" y="3842.8" width="36.8" height="36.8" fill="#ff5a5a"/>
<rect x="1968" y="3842.8" width="35.6" height="36.8" fill="#4500ad"/>
<rect x="2003.3" y="3842.8" width="38" height="36.8" fill="#4500ad"/>
<rect x="2041" y="3842.8" width="36.1" height="36.8" fill="#4500ad"/>
<rect x="1858" y="3879.3" width="37.6" height="36.8" fill="#ff0000"/>
<rect x="1895.3" y="3879.3" width="36.5" height="36.8" fill="#6b58ef"/>
<rect x="1931.5" y="3879.3" width="36.8" height="36.8" fill="#ff8989"/>
<rect x="1968" y="3879.3" width="35.6" height="36.8" fill="#4500ad"/>
<rect x="2003.3" y="3879.3" width="38" height="36.8" fill="#6b58ef"/>
<rect x="2041" y="3879.3" width="36.1" height="36.8" fill="#2700d1"/>
</g>
<line x1="1858" y1="2673.8" x2="1858" y2="3915.8" stroke="#000" stroke-width="5" opacity="0.35"/>
<line x1="1895.3" y1="2673.8" x2="1895.3" y2="3915.8" stroke="#000" stroke-width="5" opacity="0.55"/>
<line x1="1931.5" y1="2673.8" x2="1931.5" y2="3915.8" stroke="#000" stroke-width="5" opacity="0.8"/>
<line x1="1968" y1="2673.8" x2="1968" y2="3915.8" stroke="#000" stroke-width="5" opacity="0.55"/>
<line x1="2003.3" y1="2673.8" x2="2003.3" y2="3915.8" stroke="#000" stroke-width="5" opacity="0.9"/>
<line x1="2041" y1="2673.8" x2="2041" y2="3915.8" stroke="#000" stroke-width="5" opacity="0.5"/>
<line x1="2076.8" y1="2673.8" x2="2076.8" y2="3915.8" stroke="#000" stroke-width="5" opacity="0.5"/>
<line x1="1856" y1="2673.8" x2="2400" y2="2673.8" stroke="#999" stroke-width="4"/>
<line x1="2400" y1="2674.8" x2="2400" y2="2674.8" stroke="#999" stroke-width="2.5"/>
<line x1="1856" y1="2710.3" x2="2078.8" y2="2710.3" stroke="#000" stroke-width="4.8" opacity="0.50"/>
<line x1="2078.8" y1="2710.3" x2="2400" y2="2710.3" stroke="rgb(149,149,149)" stroke-width="5"/>
<line x1="1856" y1="2746.9" x2="2078.8" y2="2746.9" stroke="#000" stroke-width="4.8" opacity="0.77"/>
<line x1="2078.8" y1="2746.9" x2="2400" y2="2746.9" stroke="rgb(98,98,98)" stroke-width="3.8"/>
<line x1="1856" y1="2783.4" x2="2078.8" y2="2783.4" stroke="#000" stroke-width="4.8" opacity="0.54"/>
<line x1="2078.8" y1="2783.4" x2="2400" y2="2783.4" stroke="rgb(141,141,141)" stroke-width="4.8"/>
<line x1="1856" y1="2819.9" x2="2078.8" y2="2819.9" stroke="#000" stroke-width="4.8" opacity="0.72"/>
<line x1="2078.8" y1="2819.9" x2="2400" y2="2819.9" stroke="rgb(107,107,107)" stroke-width="4"/>
<line x1="1856" y1="2856.5" x2="2078.8" y2="2856.5" stroke="#000" stroke-width="4.8" opacity="0.77"/>
<line x1="2078.8" y1="2856.5" x2="2400" y2="2856.5" stroke="rgb(98,98,98)" stroke-width="3.8"/>
<line x1="1856" y1="2893" x2="2078.8" y2="2893" stroke="#000" stroke-width="4.8" opacity="0.50"/>
<line x1="2078.8" y1="2893" x2="2400" y2="2893" stroke="rgb(149,149,149)" stroke-width="5"/>
<line x1="1856" y1="2929.5" x2="2078.8" y2="2929.5" stroke="#000" stroke-width="4.8" opacity="0.72"/>
<line x1="2078.8" y1="2929.5" x2="2400" y2="2929.5" stroke="rgb(107,107,107)" stroke-width="4"/>
<line x1="1856" y1="2966" x2="2078.8" y2="2966" stroke="#000" stroke-width="4.8" opacity="0.54"/>
<line x1="2078.8" y1="2966" x2="2400" y2="2966" stroke="rgb(141,141,141)" stroke-width="4.8"/>
<line x1="1856" y1="3002.6" x2="2078.8" y2="3002.6" stroke="#000" stroke-width="4.8" opacity="0.50"/>
<line x1="2078.8" y1="3002.6" x2="2400" y2="3002.6" stroke="rgb(149,149,149)" stroke-width="5"/>
<line x1="1856" y1="3039.1" x2="2078.8" y2="3039.1" stroke="#000" stroke-width="4.8" opacity="0.77"/>
<line x1="2078.8" y1="3039.1" x2="2400" y2="3039.1" stroke="rgb(98,98,98)" stroke-width="3.8"/>
<line x1="1856" y1="3075.6" x2="2078.8" y2="3075.6" stroke="#000" stroke-width="4.8" opacity="0.54"/>
<line x1="2078.8" y1="3075.6" x2="2400" y2="3075.6" stroke="rgb(141,141,141)" stroke-width="4.8"/>
<line x1="1856" y1="3112.2" x2="2078.8" y2="3112.2" stroke="#000" stroke-width="4.8" opacity="0.54"/>
<line x1="2078.8" y1="3112.2" x2="2400" y2="3112.2" stroke="rgb(141,141,141)" stroke-width="4.8"/>
<line x1="1856" y1="3148.7" x2="2078.8" y2="3148.7" stroke="#000" stroke-width="4.8" opacity="0.50"/>
<line x1="2078.8" y1="3148.7" x2="2400" y2="3148.7" stroke="rgb(149,149,149)" stroke-width="5"/>
<line x1="1856" y1="3185.2" x2="2078.8" y2="3185.2" stroke="#000" stroke-width="4.8" opacity="0.77"/>
<line x1="2078.8" y1="3185.2" x2="2400" y2="3185.2" stroke="rgb(98,98,98)" stroke-width="3.8"/>
<line x1="1856" y1="3221.8" x2="2078.8" y2="3221.8" stroke="#000" stroke-width="4.8" opacity="0.54"/>
<line x1="2078.8" y1="3221.8" x2="2400" y2="3221.8" stroke="rgb(141,141,141)" stroke-width="4.8"/>
<line x1="1856" y1="3258.3" x2="2078.8" y2="3258.3" stroke="#000" stroke-width="4.8" opacity="0.72"/>
<line x1="2078.8" y1="3258.3" x2="2400" y2="3258.3" stroke="rgb(107,107,107)" stroke-width="4"/>
<line x1="1856" y1="3294.8" x2="2078.8" y2="3294.8" stroke="#000" stroke-width="4.8" opacity="0.77"/>
<line x1="2078.8" y1="3294.8" x2="2400" y2="3294.8" stroke="rgb(98,98,98)" stroke-width="3.8"/>
<line x1="1856" y1="3331.3" x2="2078.8" y2="3331.3" stroke="#000" stroke-width="4.8" opacity="0.50"/>
<line x1="2078.8" y1="3331.3" x2="2400" y2="3331.3" stroke="rgb(149,149,149)" stroke-width="5"/>
<line x1="1856" y1="3367.9" x2="2078.8" y2="3367.9" stroke="#000" stroke-width="4.8" opacity="0.72"/>
<line x1="2078.8" y1="3367.9" x2="2400" y2="3367.9" stroke="rgb(107,107,107)" stroke-width="4"/>
<line x1="1856" y1="3404.4" x2="2078.8" y2="3404.4" stroke="#000" stroke-width="4.8" opacity="0.54"/>
<line x1="2078.8" y1="3404.4" x2="2400" y2="3404.4" stroke="rgb(141,141,141)" stroke-width="4.8"/>
<line x1="1856" y1="3440.9" x2="2078.8" y2="3440.9" stroke="#000" stroke-width="4.8" opacity="0.50"/>
<line x1="2078.8" y1="3440.9" x2="2400" y2="3440.9" stroke="rgb(149,149,149)" stroke-width="5"/>
<line x1="1856" y1="3477.5" x2="2078.8" y2="3477.5" stroke="#000" stroke-width="4.8" opacity="0.77"/>
<line x1="2078.8" y1="3477.5" x2="2400" y2="3477.5" stroke="rgb(98,98,98)" stroke-width="3.8"/>
<line x1="1856" y1="3514" x2="2078.8" y2="3514" stroke="#000" stroke-width="4.8" opacity="0.54"/>
<line x1="2078.8" y1="3514" x2="2400" y2="3514" stroke="rgb(141,141,141)" stroke-width="4.8"/>
<line x1="1856" y1="3550.5" x2="2078.8" y2="3550.5" stroke="#000" stroke-width="4.8" opacity="0.54"/>
<line x1="2078.8" y1="3550.5" x2="2400" y2="3550.5" stroke="rgb(141,141,141)" stroke-width="4.8"/>
<line x1="1856" y1="3587.1" x2="2078.8" y2="3587.1" stroke="#000" stroke-width="4.8" opacity="0.50"/>
<line x1="2078.8" y1="3587.1" x2="2400" y2="3587.1" stroke="rgb(149,149,149)" stroke-width="5"/>
<line x1="1856" y1="3623.6" x2="2078.8" y2="3623.6" stroke="#000" stroke-width="4.8" opacity="0.77"/>
<line x1="2078.8" y1="3623.6" x2="2400" y2="3623.6" stroke="rgb(98,98,98)" stroke-width="3.8"/>
<line x1="1856" y1="3660.1" x2="2078.8" y2="3660.1" stroke="#000" stroke-width="4.8" opacity="0.54"/>
<line x1="2078.8" y1="3660.1" x2="2400" y2="3660.1" stroke="rgb(141,141,141)" stroke-width="4.8"/>
<line x1="1856" y1="3696.6" x2="2078.8" y2="3696.6" stroke="#000" stroke-width="4.8" opacity="0.72"/>
<line x1="2078.8" y1="3696.6" x2="2400" y2="3696.6" stroke="rgb(107,107,107)" stroke-width="4"/>
<line x1="1856" y1="3733.2" x2="2078.8" y2="3733.2" stroke="#000" stroke-width="4.8" opacity="0.77"/>
<line x1="2078.8" y1="3733.2" x2="2400" y2="3733.2" stroke="rgb(98,98,98)" stroke-width="3.8"/>
<line x1="1856" y1="3769.7" x2="2078.8" y2="3769.7" stroke="#000" stroke-width="4.8" opacity="0.50"/>
<line x1="2078.8" y1="3769.7" x2="2400" y2="3769.7" stroke="rgb(149,149,149)" stroke-width="5"/>
<line x1="1856" y1="3806.2" x2="2078.8" y2="3806.2" stroke="#000" stroke-width="4.8" opacity="0.72"/>
<line x1="2078.8" y1="3806.2" x2="2400" y2="3806.2" stroke="rgb(107,107,107)" stroke-width="4"/>
<line x1="1856" y1="3842.8" x2="2078.8" y2="3842.8" stroke="#000" stroke-width="4.8" opacity="0.54"/>
<line x1="2078.8" y1="3842.8" x2="2400" y2="3842.8" stroke="rgb(141,141,141)" stroke-width="4.8"/>
<line x1="1856" y1="3879.3" x2="2078.8" y2="3879.3" stroke="#000" stroke-width="4.8" opacity="0.50"/>
<line x1="2078.8" y1="3879.3" x2="2400" y2="3879.3" stroke="rgb(149,149,149)" stroke-width="5"/>
<line x1="1856" y1="3915.8" x2="2078.8" y2="3915.8" stroke="#000" stroke-width="4.8" opacity="0.77"/>
<line x1="2078.8" y1="3915.8" x2="2400" y2="3915.8" stroke="rgb(98,98,98)" stroke-width="3.8"/>
<text x="2107" y="2711.3" font-family="'Liberation Mono','DejaVu Sans Mono',monospace" font-size="34.3" fill="#484848" textLength="82.4" lengthAdjust="spacingAndGlyphs" stroke="#484848" stroke-width="0.7" stroke-linejoin="round">Tlr4</text>
<text x="2107" y="2747.9" font-family="'Liberation Mono','DejaVu Sans Mono',monospace" font-size="34.3" fill="#484848" textLength="61.8" lengthAdjust="spacingAndGlyphs" stroke="#484848" stroke-width="0.7" stroke-linejoin="round">Fos</text>
<text x="2107" y="2784.4" font-family="'Liberation Mono','DejaVu Sans Mono',monospace" font-size="34.3" fill="#484848" textLength="82.4" lengthAdjust="spacingAndGlyphs" stroke="#484848" stroke-width="0.7" stroke-linejoin="round">Tifa</text>
<text x="2107" y="2820.9" font-family="'Liberation Mono','DejaVu Sans Mono',monospace" font-size="34.3" fill="#484848" textLength="103" lengthAdjust="spacingAndGlyphs" stroke="#484848" stroke-width="0.7" stroke-linejoin="round">Itgb2</text>
<text x="2107" y="2857.5" font-family="'Liberation Mono','DejaVu Sans Mono',monospace" font-size="34.3" fill="#484848" textLength="82.4" lengthAdjust="spacingAndGlyphs" stroke="#484848" stroke-width="0.7" stroke-linejoin="round">Irf7</text>
<text x="2107" y="2894" font-family="'Liberation Mono','DejaVu Sans Mono',monospace" font-size="34.3" fill="#484848" textLength="82.4" lengthAdjust="spacingAndGlyphs" stroke="#484848" stroke-width="0.7" stroke-linejoin="round">Cd14</text>
<text x="2107" y="2930.5" font-family="'Liberation Mono','DejaVu Sans Mono',monospace" font-size="34.3" fill="#484848" textLength="123.6" lengthAdjust="spacingAndGlyphs" stroke="#484848" stroke-width="0.7" stroke-linejoin="round">Map3k8</text>
<text x="2107" y="2967" font-family="'Liberation Mono','DejaVu Sans Mono',monospace" font-size="34.3" fill="#484848" textLength="103" lengthAdjust="spacingAndGlyphs" stroke="#484848" stroke-width="0.7" stroke-linejoin="round">Usp18</text>
<text x="2107" y="3003.6" font-family="'Liberation Mono','DejaVu Sans Mono',monospace" font-size="34.3" fill="#484848" textLength="123.6" lengthAdjust="spacingAndGlyphs" stroke="#484848" stroke-width="0.7" stroke-linejoin="round">Map2k6</text>
<text x="2107" y="3040.1" font-family="'Liberation Mono','DejaVu Sans Mono',monospace" font-size="34.3" fill="#484848" textLength="82.4" lengthAdjust="spacingAndGlyphs" stroke="#484848" stroke-width="0.7" stroke-linejoin="round">Ly86</text>
<text x="2107" y="3076.6" font-family="'Liberation Mono','DejaVu Sans Mono',monospace" font-size="34.3" fill="#484848" textLength="103" lengthAdjust="spacingAndGlyphs" stroke="#484848" stroke-width="0.7" stroke-linejoin="round">Ripk3</text>
<text x="2107" y="3113.2" font-family="'Liberation Mono','DejaVu Sans Mono',monospace" font-size="34.3" fill="#484848" textLength="103" lengthAdjust="spacingAndGlyphs" stroke="#484848" stroke-width="0.7" stroke-linejoin="round">Itgam</text>
<text x="2107" y="3149.7" font-family="'Liberation Mono','DejaVu Sans Mono',monospace" font-size="34.3" fill="#484848" textLength="103" lengthAdjust="spacingAndGlyphs" stroke="#484848" stroke-width="0.7" stroke-linejoin="round">Dusp4</text>
<text x="2107" y="3186.2" font-family="'Liberation Mono','DejaVu Sans Mono',monospace" font-size="34.3" fill="#484848" textLength="103" lengthAdjust="spacingAndGlyphs" stroke="#484848" stroke-width="0.7" stroke-linejoin="round">S100b</text>
<text x="2107" y="3222.8" font-family="'Liberation Mono','DejaVu Sans Mono',monospace" font-size="34.3" fill="#484848" textLength="82.4" lengthAdjust="spacingAndGlyphs" stroke="#484848" stroke-width="0.7" stroke-linejoin="round">Tbk1</text>
<text x="2107" y="3259.3" font-family="'Liberation Mono','DejaVu Sans Mono',monospace" font-size="34.3" fill="#484848" textLength="103" lengthAdjust="spacingAndGlyphs" stroke="#484848" stroke-width="0.7" stroke-linejoin="round">Ripk1</text>
<text x="2107" y="3295.8" font-family="'Liberation Mono','DejaVu Sans Mono',monospace" font-size="34.3" fill="#484848" textLength="103" lengthAdjust="spacingAndGlyphs" stroke="#484848" stroke-width="0.7" stroke-linejoin="round">Ripk2</text>
<text x="2107" y="3332.3" font-family="'Liberation Mono','DejaVu Sans Mono',monospace" font-size="34.3" fill="#484848" textLength="82.4" lengthAdjust="spacingAndGlyphs" stroke="#484848" stroke-width="0.7" stroke-linejoin="round">Atf2</text>
<text x="2107" y="3368.9" font-family="'Liberation Mono','DejaVu Sans Mono',monospace" font-size="34.3" fill="#484848" textLength="103" lengthAdjust="spacingAndGlyphs" stroke="#484848" stroke-width="0.7" stroke-linejoin="round">N4bp1</text>
<text x="2107" y="3405.4" font-family="'Liberation Mono','DejaVu Sans Mono',monospace" font-size="34.3" fill="#484848" textLength="82.4" lengthAdjust="spacingAndGlyphs" stroke="#484848" stroke-width="0.7" stroke-linejoin="round">Ly96</text>
<text x="2107" y="3441.9" font-family="'Liberation Mono','DejaVu Sans Mono',monospace" font-size="34.3" fill="#484848" textLength="103" lengthAdjust="spacingAndGlyphs" stroke="#484848" stroke-width="0.7" stroke-linejoin="round">Dusp3</text>
<text x="2107" y="3478.5" font-family="'Liberation Mono','DejaVu Sans Mono',monospace" font-size="34.3" fill="#484848" textLength="123.6" lengthAdjust="spacingAndGlyphs" stroke="#484848" stroke-width="0.7" stroke-linejoin="round">Ticam1</text>
<text x="2107" y="3515" font-family="'Liberation Mono','DejaVu Sans Mono',monospace" font-size="34.3" fill="#484848" textLength="103" lengthAdjust="spacingAndGlyphs" stroke="#484848" stroke-width="0.7" stroke-linejoin="round">Peli3</text>
<text x="2107" y="3551.5" font-family="'Liberation Mono','DejaVu Sans Mono',monospace" font-size="34.3" fill="#484848" textLength="103" lengthAdjust="spacingAndGlyphs" stroke="#484848" stroke-width="0.7" stroke-linejoin="round">Dusp6</text>
<text x="2107" y="3588.1" font-family="'Liberation Mono','DejaVu Sans Mono',monospace" font-size="34.3" fill="#484848" textLength="82.4" lengthAdjust="spacingAndGlyphs" stroke="#484848" stroke-width="0.7" stroke-linejoin="round">Atf1</text>
<text x="2107" y="3624.6" font-family="'Liberation Mono','DejaVu Sans Mono',monospace" font-size="34.3" fill="#484848" textLength="123.6" lengthAdjust="spacingAndGlyphs" stroke="#484848" stroke-width="0.7" stroke-linejoin="round">Nfkbia</text>
<text x="2107" y="3661.1" font-family="'Liberation Mono','DejaVu Sans Mono',monospace" font-size="34.3" fill="#484848" textLength="123.6" lengthAdjust="spacingAndGlyphs" stroke="#484848" stroke-width="0.7" stroke-linejoin="round">Ube2v1</text>
<text x="2107" y="3697.6" font-family="'Liberation Mono','DejaVu Sans Mono',monospace" font-size="34.3" fill="#484848" textLength="103" lengthAdjust="spacingAndGlyphs" stroke="#484848" stroke-width="0.7" stroke-linejoin="round">Plcg2</text>
<text x="2107" y="3734.2" font-family="'Liberation Mono','DejaVu Sans Mono',monospace" font-size="34.3" fill="#484848" textLength="103" lengthAdjust="spacingAndGlyphs" stroke="#484848" stroke-width="0.7" stroke-linejoin="round">Casp8</text>
<text x="2107" y="3770.7" font-family="'Liberation Mono','DejaVu Sans Mono',monospace" font-size="34.3" fill="#484848" textLength="103" lengthAdjust="spacingAndGlyphs" stroke="#484848" stroke-width="0.7" stroke-linejoin="round">Tnip2</text>
<text x="2107" y="3807.2" font-family="'Liberation Mono','DejaVu Sans Mono',monospace" font-size="34.3" fill="#484848" textLength="103" lengthAdjust="spacingAndGlyphs" stroke="#484848" stroke-width="0.7" stroke-linejoin="round">Usp14</text>
<text x="2107" y="3843.8" font-family="'Liberation Mono','DejaVu Sans Mono',monospace" font-size="34.3" fill="#484848" textLength="103" lengthAdjust="spacingAndGlyphs" stroke="#484848" stroke-width="0.7" stroke-linejoin="round">Mapk9</text>
<text x="2107" y="3880.3" font-family="'Liberation Mono','DejaVu Sans Mono',monospace" font-size="34.3" fill="#484848" textLength="103" lengthAdjust="spacingAndGlyphs" stroke="#484848" stroke-width="0.7" stroke-linejoin="round">Birc3</text>
<text x="2107" y="3916.8" font-family="'Liberation Mono','DejaVu Sans Mono',monospace" font-size="34.3" fill="#484848" textLength="123.6" lengthAdjust="spacingAndGlyphs" stroke="#484848" stroke-width="0.7" stroke-linejoin="round">Rps27a</text>
<text x="2110.3" y="2635.4" font-family="'Liberation Mono','DejaVu Sans Mono',monospace" font-size="44.5" fill="#707070" textLength="267.1" lengthAdjust="spacingAndGlyphs" stroke="#707070" stroke-width="1.6" stroke-linejoin="round">SampleName</text>
</g>
</g></svg></body></html>
